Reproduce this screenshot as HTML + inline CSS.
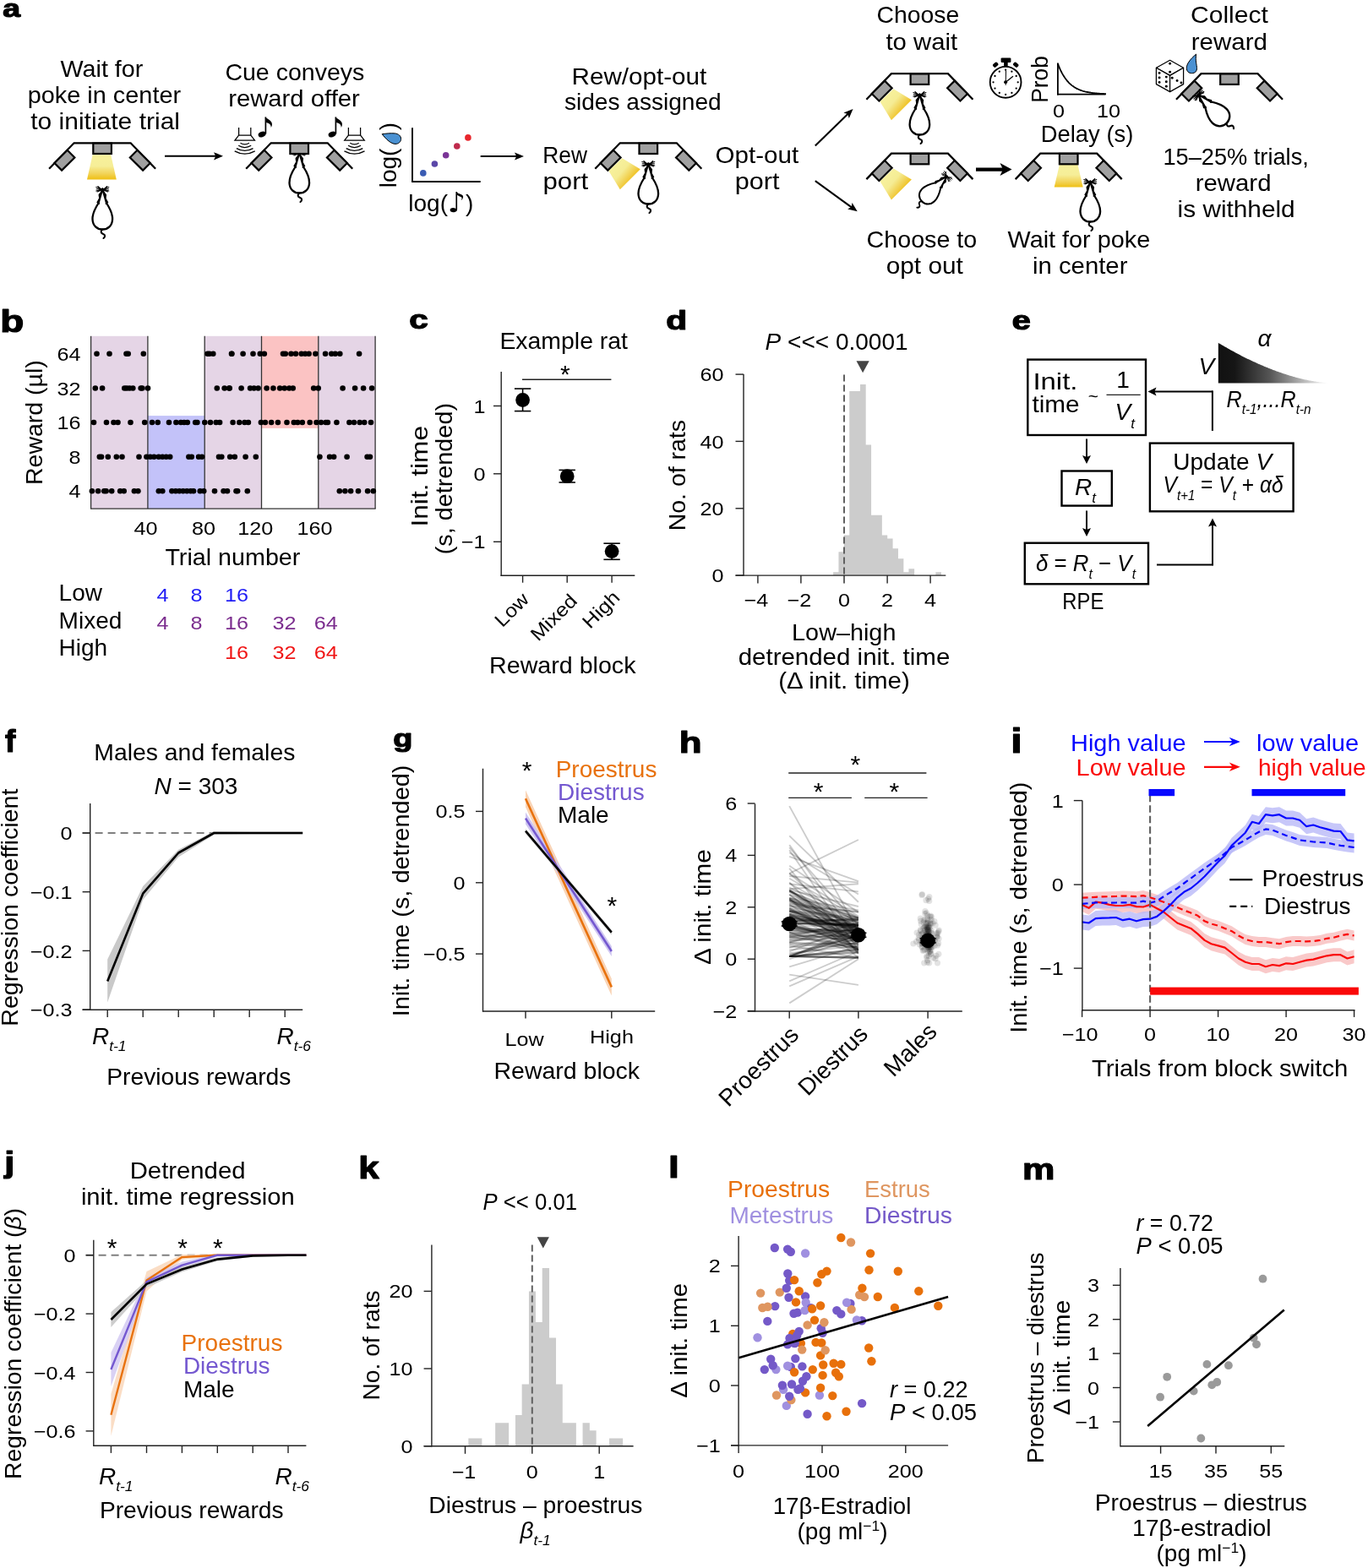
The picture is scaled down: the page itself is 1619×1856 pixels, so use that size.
<!DOCTYPE html>
<html><head><meta charset="utf-8"><title>Figure</title>
<style>html,body{margin:0;padding:0;background:#fff;} svg{display:block;} text{font-family:'Liberation Sans', 'DejaVu Sans', sans-serif;}</style>
</head><body>
<svg width="1619" height="1856" viewBox="0 0 1619 1856">
<rect width="1619" height="1856" fill="#fff"/>

<defs>
 <linearGradient id="gDown" x1="0" y1="0" x2="0" y2="1">
  <stop offset="0" stop-color="#f7f19c"/>
  <stop offset="0.45" stop-color="#f6ee98"/>
  <stop offset="0.75" stop-color="#f2d45a"/>
  <stop offset="1" stop-color="#efbf12"/>
 </linearGradient>
 <linearGradient id="gDiag" gradientUnits="userSpaceOnUse" x1="-40" y1="27" x2="-19" y2="45">
  <stop offset="0" stop-color="#f7f19c"/>
  <stop offset="0.4" stop-color="#f5ec94"/>
  <stop offset="0.75" stop-color="#f1d04e"/>
  <stop offset="1" stop-color="#efbd10"/>
 </linearGradient>
 <linearGradient id="gV" x1="0" y1="0" x2="1" y2="0">
  <stop offset="0" stop-color="#111"/>
  <stop offset="0.15" stop-color="#161616"/>
  <stop offset="0.46" stop-color="#555"/>
  <stop offset="0.67" stop-color="#999"/>
  <stop offset="0.88" stop-color="#ddd"/>
  <stop offset="1" stop-color="#fff"/>
 </linearGradient>
 <g id="app">
  <path d="M-63,30.5 L-33.5,0 L33.5,0 L63,30.5" fill="none" stroke="#000" stroke-width="2.3" stroke-linejoin="miter"/>
  <rect x="-10.8" y="0.3" width="21.6" height="12.4" fill="#a0a0a0" stroke="#000" stroke-width="2.2"/>
  <rect x="-10.8" y="-6.1" width="21.6" height="12.2" fill="#a0a0a0" stroke="#000" stroke-width="2.2" transform="translate(-44.7,20.4) rotate(-45)"/>
  <rect x="-10.8" y="-6.1" width="21.6" height="12.2" fill="#a0a0a0" stroke="#000" stroke-width="2.2" transform="translate(44.7,20.4) rotate(45)"/>
 </g>
 <g id="rat" fill="none" stroke="#000" stroke-linecap="round" stroke-linejoin="round">
  <path d="M-7.5,0.5 L7.5,5 M-7.5,5 L7.5,0.5 M-7.2,2.8 L7.2,2.8 M-5.5,-0.5 L-1,3.3 M5.5,-0.5 L1,3.3 M-6.3,6 L-1,4 M6.3,6 L1,4" stroke-width="1.05"/>
  <path d="M0,2.5 L-4.8,19.5 M0,2.5 L4.8,19.5" stroke-width="2.3"/>
  <path d="M-1.4,6 L-4.2,9.5 L-3.6,13.5 L-2.6,11 Z M1.4,6 L4.2,9.5 L3.6,13.5 L2.6,11 Z" fill="#000" stroke-width="1.2"/>
  <path d="M-4.2,15 L-6.2,18.5 L-4,20 M4.2,15 L6.2,18.5 L4,20" stroke-width="1.5"/>
  <path d="M-4.8,19.5 C-9,26 -12,32 -11.8,38.5 C-11.6,46 -6.5,50.5 0,50.5 C6.5,50.5 11.6,46 11.8,38.5 C12,32 9,26 4.8,19.5" stroke-width="2.3"/>
  <path d="M0,50.5 C-2.4,52.5 -2.2,55 0.8,56 C3.6,57 3.2,59.5 1.2,61" stroke-width="2.1"/>
 </g>
 <g id="spk" fill="#fff" stroke="#000" stroke-width="1.25">
  <path d="M-7.1,-9 L-7.1,0 M7.1,-9 L7.1,0" fill="none"/>
  <path d="M-7.1,0 L7.1,0 L11.8,6.2 L-11.8,6.2 Z"/>
  <path d="M-5.2,9.2 Q0,12.5 5.2,9.2 M-7.5,12.3 Q0,16.8 7.5,12.3 M-9.8,15.6 Q0,21.2 9.8,15.6 M-12,18.9 Q0,25.5 12,18.9" fill="none"/>
 </g>
 <g id="note">
  <ellipse cx="-5.3" cy="20.5" rx="4.6" ry="3.2" transform="rotate(-22 -5.3 20.5)" fill="#000"/>
  <path d="M-1,20 L-1,0" stroke="#000" stroke-width="1.7"/>
  <path d="M-1.6,0 C1,2.5 7.5,4.5 6.5,9.5 C6.2,11 5.6,12 5.2,12.6 C6,9.5 3,7 -1,6.2 Z" fill="#000"/>
 </g>
</defs>

<text x="3.2" y="20.1" font-size="29.27" font-weight="bold" textLength="20.8" lengthAdjust="spacingAndGlyphs" stroke="#000" stroke-width="1.2" stroke-linejoin="round">a</text>
<text x="71.5" y="91.4" font-size="28" textLength="97.9" lengthAdjust="spacingAndGlyphs">Wait for</text>
<text x="32.7" y="122.3" font-size="28" textLength="181.4" lengthAdjust="spacingAndGlyphs">poke in center</text>
<text x="36.2" y="153.0" font-size="28" textLength="176.8" lengthAdjust="spacingAndGlyphs">to initiate trial</text>
<text x="266.4" y="95.2" font-size="28" textLength="165.0" lengthAdjust="spacingAndGlyphs">Cue conveys</text>
<text x="270.2" y="126.1" font-size="28" textLength="155.6" lengthAdjust="spacingAndGlyphs">reward offer</text>
<text x="676.6" y="100.2" font-size="28" textLength="159.6" lengthAdjust="spacingAndGlyphs">Rew/opt-out</text>
<text x="667.9" y="130.3" font-size="28" textLength="185.8" lengthAdjust="spacingAndGlyphs">sides assigned</text>
<text x="642.3" y="192.8" font-size="28" textLength="52.6" lengthAdjust="spacingAndGlyphs">Rew</text>
<text x="642.5" y="224.2" font-size="28" textLength="53.7" lengthAdjust="spacingAndGlyphs">port</text>
<text x="846.6" y="193.3" font-size="28" textLength="98.6" lengthAdjust="spacingAndGlyphs">Opt-out</text>
<text x="869.8" y="224.2" font-size="28" textLength="52.7" lengthAdjust="spacingAndGlyphs">port</text>
<text x="1037.6" y="27.2" font-size="28" textLength="97.7" lengthAdjust="spacingAndGlyphs">Choose</text>
<text x="1048.4" y="59.3" font-size="28" textLength="84.7" lengthAdjust="spacingAndGlyphs">to wait</text>
<text x="1025.6" y="293.3" font-size="28" textLength="130.6" lengthAdjust="spacingAndGlyphs">Choose to</text>
<text x="1048.7" y="323.7" font-size="28" textLength="91.2" lengthAdjust="spacingAndGlyphs">opt out</text>
<text x="1192.5" y="293.3" font-size="28" textLength="168.7" lengthAdjust="spacingAndGlyphs">Wait for poke</text>
<text x="1222.0" y="323.7" font-size="28" textLength="112.4" lengthAdjust="spacingAndGlyphs">in center</text>
<text x="1409.0" y="27.2" font-size="28" textLength="91.9" lengthAdjust="spacingAndGlyphs">Collect</text>
<text x="1409.7" y="59.3" font-size="28" textLength="90.2" lengthAdjust="spacingAndGlyphs">reward</text>
<text x="1376.4" y="195.2" font-size="28" textLength="172.4" lengthAdjust="spacingAndGlyphs">15–25% trials,</text>
<text x="1414.7" y="226.0" font-size="28" textLength="89.8" lengthAdjust="spacingAndGlyphs">reward</text>
<text x="1393.6" y="257.0" font-size="28" textLength="139.1" lengthAdjust="spacingAndGlyphs">is withheld</text>
<path d="M109.6,183.3 L131.2,183.3 L137.8,212.6 L103.0,212.6Z" fill="url(#gDown)" stroke="none" stroke-width="1" />
<g transform="translate(767.3,169.3)"><path d="M-47,33 L-31,18 L-9.5,31 L-33.5,55 Z" fill="url(#gDiag)"/></g>
<g transform="translate(1088.4,87.2)"><path d="M-47,33 L-31,18 L-9.5,31 L-33.5,55 Z" fill="url(#gDiag)"/></g>
<g transform="translate(1088.4,181.6)"><path d="M-47,33 L-31,18 L-9.5,31 L-33.5,55 Z" fill="url(#gDiag)"/></g>
<path d="M1253.9,195.1 L1275.5,195.1 L1281.7,221.6 L1247.7,221.6Z" fill="url(#gDown)" stroke="none" stroke-width="1" />
<use href="#rat" transform="translate(354.3,178.0) rotate(0) scale(1.0)"/>
<use href="#app" x="121.1" y="169.3"/>
<use href="#app" x="354.2" y="169.3"/>
<use href="#app" x="767.3" y="169.3"/>
<use href="#app" x="1088.4" y="87.2"/>
<use href="#app" x="1088.4" y="181.6"/>
<use href="#app" x="1264.7" y="181.6"/>
<use href="#app" x="1455.0" y="87.2"/>
<use href="#rat" transform="translate(121.3,221.0) rotate(0) scale(1.0)"/>
<use href="#rat" transform="translate(767.3,191.0) rotate(0) scale(1.0)"/>
<use href="#rat" transform="translate(1088.4,109.0) rotate(0) scale(1.0)"/>
<use href="#rat" transform="translate(1122.5,207.0) rotate(45) scale(0.88)"/>
<use href="#rat" transform="translate(1290.3,212.0) rotate(0) scale(1.0)"/>
<use href="#rat" transform="translate(1416.0,110.0) rotate(-45) scale(1.0)"/>
<use href="#spk" x="289.7" y="160"/>
<use href="#spk" x="419.5" y="160"/>
<use href="#note" x="315.4" y="138.5"/>
<use href="#note" x="398.4" y="138.5"/>
<line x1="195.0" y1="184.8" x2="256.4" y2="184.8" stroke="#000" stroke-width="2.1" />
<path d="M264.0,184.8 L253.0,189.4 L255.2,184.8 L253.0,180.2Z" fill="#000" stroke="none" stroke-width="1" />
<line x1="568.7" y1="185.0" x2="612.4" y2="185.0" stroke="#000" stroke-width="2.1" />
<path d="M620.0,185.0 L609.0,189.6 L611.2,185.0 L609.0,180.4Z" fill="#000" stroke="none" stroke-width="1" />
<line x1="964.8" y1="172.5" x2="1004.1" y2="134.3" stroke="#000" stroke-width="2.1" />
<path d="M1009.5,129.0 L1004.8,140.0 L1003.2,135.1 L998.4,133.4Z" fill="#000" stroke="none" stroke-width="1" />
<line x1="964.8" y1="214.2" x2="1008.5" y2="245.8" stroke="#000" stroke-width="2.1" />
<path d="M1014.7,250.2 L1003.1,247.5 L1007.6,245.1 L1008.5,240.0Z" fill="#000" stroke="none" stroke-width="1" />
<line x1="1155.0" y1="200.6" x2="1188.2" y2="200.6" stroke="#000" stroke-width="4.4" />
<path d="M1197.5,200.6 L1183.5,208.1 L1187.0,200.6 L1183.5,193.1Z" fill="#000" stroke="none" stroke-width="1" />
<line x1="488.0" y1="151.3" x2="488.0" y2="215.0" stroke="#000" stroke-width="1.9" />
<line x1="487.1" y1="215.0" x2="568.7" y2="215.0" stroke="#000" stroke-width="1.9" />
<circle cx="500.8" cy="204.9" r="3.8" fill="#3a5cb3" />
<circle cx="514.4" cy="194.0" r="3.8" fill="#5b47a8" />
<circle cx="527.7" cy="183.7" r="3.8" fill="#7b3597" />
<circle cx="540.8" cy="173.0" r="3.8" fill="#bf2a4c" />
<circle cx="553.9" cy="162.9" r="3.8" fill="#e8262c" />
<text x="483.3" y="250.3" font-size="28">log(<tspan font-family="DejaVu Sans" font-size="33" dy="1">♪</tspan><tspan dy="-1">)</tspan></text>
<text x="469.0" y="222.3" font-size="28" transform="rotate(-90 469.0 222.3)">log(</text>
<text x="469.0" y="154.3" font-size="28" transform="rotate(-90 469.0 154.3)">)</text>
<path d="M452.2,158.7 C456.5,158.1 462,157.5 467.3,157.9 C471.6,158.3 474.6,161.0 474.6,164.3 C474.6,168.0 471.6,170.4 468.0,170.4 C462.8,170.4 456.8,164.8 452.2,158.7 Z" fill="#4a91d2" stroke="#000" stroke-width="1.0" />
<g>
<circle cx="1190.1" cy="97.3" r="18.4" fill="none" stroke="#000" stroke-width="1.9"/>
<rect x="1184.6" y="68.4" width="11.8" height="5.6" rx="1.2" fill="#000"/>
<rect x="1188.1" y="73.5" width="4.6" height="5" fill="#000"/>
<rect x="-3.2" y="-2.3" width="6.4" height="4.6" rx="1.5" fill="#000" transform="translate(1178.2,76.7) rotate(-40)"/>
<rect x="-3.2" y="-2.3" width="6.4" height="4.6" rx="1.5" fill="#000" transform="translate(1202.2,76.7) rotate(40)"/>
<circle cx="1190.1" cy="82.7" r="1.15" fill="#000" />
<circle cx="1197.4" cy="84.7" r="1.15" fill="#000" />
<circle cx="1202.7" cy="90.0" r="1.15" fill="#000" />
<circle cx="1204.7" cy="97.3" r="1.15" fill="#000" />
<circle cx="1202.7" cy="104.6" r="1.15" fill="#000" />
<circle cx="1197.4" cy="109.9" r="1.15" fill="#000" />
<circle cx="1190.1" cy="111.9" r="1.15" fill="#000" />
<circle cx="1182.8" cy="109.9" r="1.15" fill="#000" />
<circle cx="1177.5" cy="104.6" r="1.15" fill="#000" />
<circle cx="1175.5" cy="97.3" r="1.15" fill="#000" />
<circle cx="1177.5" cy="90.0" r="1.15" fill="#000" />
<circle cx="1182.8" cy="84.7" r="1.15" fill="#000" />
<line x1="1190.2" y1="100.8" x2="1190.5" y2="83.4" stroke="#000" stroke-width="1.0" />
<line x1="1190.2" y1="97.3" x2="1199.0" y2="90.2" stroke="#000" stroke-width="1.3" />
<circle cx="1190.1" cy="97.3" r="2.0" fill="#000" />
</g>
<text x="1240.2" y="121.8" font-size="28" transform="rotate(-90 1240.2 121.8)" textLength="55.6" lengthAdjust="spacingAndGlyphs">Prob</text>
<line x1="1251.9" y1="74.6" x2="1251.9" y2="112.5" stroke="#000" stroke-width="1.8" />
<line x1="1251.0" y1="111.7" x2="1308.6" y2="111.7" stroke="#000" stroke-width="1.8" />
<path d="M1251.9,75.3 L1252.9,77.9 L1253.9,80.3 L1254.9,82.6 L1255.9,84.6 L1256.9,86.6 L1257.9,88.4 L1258.9,90.0 L1259.9,91.6 L1260.9,93.0 L1261.9,94.3 L1262.9,95.6 L1263.9,96.7 L1264.9,97.8 L1265.9,98.8 L1266.9,99.7 L1267.9,100.6 L1268.9,101.4 L1269.9,102.1 L1270.9,102.8 L1271.9,103.4 L1272.9,104.0 L1273.9,104.6 L1274.9,105.1 L1275.9,105.5 L1276.9,106.0 L1277.9,106.4 L1278.9,106.8 L1279.9,107.1 L1280.9,107.5 L1281.9,107.8 L1282.9,108.0 L1283.9,108.3 L1284.9,108.5 L1285.9,108.8 L1286.9,109.0 L1287.9,109.2 L1288.9,109.4 L1289.9,109.5 L1290.9,109.7 L1291.9,109.8 L1292.9,110.0 L1293.9,110.1 L1294.9,110.2 L1295.9,110.3 L1296.9,110.4 L1297.9,110.5 L1298.9,110.6 L1299.9,110.7 L1300.9,110.7 L1301.9,110.8 L1302.9,110.9 L1303.9,110.9 L1304.9,111.0 L1305.9,111.0 L1306.9,111.1 L1307.9,111.1 L1308.9,111.2" fill="none" stroke="#000" stroke-width="1.8" />
<text x="1252.9" y="138.5" font-size="22.5" text-anchor="middle" textLength="14.0" lengthAdjust="spacingAndGlyphs">0</text>
<text x="1312.0" y="138.5" font-size="22.5" text-anchor="middle" textLength="28.0" lengthAdjust="spacingAndGlyphs">10</text>
<text x="1231.8" y="168.0" font-size="28" textLength="109.5" lengthAdjust="spacingAndGlyphs">Delay (s)</text>
<g stroke="#000" stroke-width="1.25" fill="#fff" stroke-linejoin="round">
<path d="M1384.6,71.3 L1400.6,80.3 L1384.6,89.4 L1368.4,80.3 Z" fill="#fff" stroke="#000" stroke-width="1.25" />
<path d="M1368.4,80.3 L1384.6,89.4 L1384.6,108.6 L1368.4,99.6 Z" fill="#fff" stroke="#000" stroke-width="1.25" />
<path d="M1400.6,80.3 L1384.6,89.4 L1384.6,108.6 L1400.6,99.6 Z" fill="#fff" stroke="#000" stroke-width="1.25" />
</g>
<circle cx="1384.6" cy="75.3" r="1.45" fill="#000" />
<circle cx="1384.6" cy="85.3" r="1.45" fill="#000" />
<circle cx="1372.1" cy="86.4" r="1.45" fill="#000" />
<circle cx="1372.1" cy="92.0" r="1.45" fill="#000" />
<circle cx="1372.1" cy="97.4" r="1.45" fill="#000" />
<circle cx="1380.3" cy="91.1" r="1.45" fill="#000" />
<circle cx="1380.3" cy="96.7" r="1.45" fill="#000" />
<circle cx="1380.3" cy="102.2" r="1.45" fill="#000" />
<circle cx="1387.2" cy="92.2" r="1.45" fill="#000" />
<circle cx="1393.1" cy="95.5" r="1.45" fill="#000" />
<circle cx="1398.0" cy="98.0" r="1.45" fill="#000" />
<path d="M1415.6,64.1 C1408,70.5 1404.3,76 1404.3,80.6 C1404.3,84.5 1407,86.7 1410.5,86.7 C1414.3,86.7 1416.6,84.2 1416.5,80.6 C1416.4,77 1414.6,72 1415.6,64.1 Z" fill="#4a91d2" stroke="#000" stroke-width="1.0" />
<text x="0.2" y="393.0" font-size="37.12" font-weight="bold" textLength="28.1" lengthAdjust="spacingAndGlyphs" stroke="#000" stroke-width="1.2" stroke-linejoin="round">b</text>
<rect x="107.6" y="397.8" width="67.3" height="204.3" fill="#e5d5e6"/>
<rect x="174.9" y="492.1" width="67.3" height="110.0" fill="#c3c2f9"/>
<rect x="242.2" y="397.8" width="67.3" height="204.3" fill="#e5d5e6"/>
<rect x="309.5" y="397.8" width="67.3" height="109.1" fill="#fbc3c3"/>
<rect x="376.8" y="397.8" width="67.3" height="204.3" fill="#e5d5e6"/>
<line x1="107.6" y1="397.8" x2="107.6" y2="602.1" stroke="#333" stroke-width="1.3" />
<line x1="174.9" y1="397.8" x2="174.9" y2="602.1" stroke="#333" stroke-width="1.3" />
<line x1="242.2" y1="397.8" x2="242.2" y2="602.1" stroke="#333" stroke-width="1.3" />
<line x1="309.5" y1="397.8" x2="309.5" y2="602.1" stroke="#333" stroke-width="1.3" />
<line x1="376.8" y1="397.8" x2="376.8" y2="602.1" stroke="#333" stroke-width="1.3" />
<line x1="444.1" y1="397.8" x2="444.1" y2="602.1" stroke="#333" stroke-width="1.3" />
<line x1="107.0" y1="602.1" x2="444.7" y2="602.1" stroke="#333" stroke-width="1.4" />
<circle cx="114.5" cy="418.8" r="3.3" fill="#000" />
<circle cx="129.5" cy="418.8" r="3.3" fill="#000" />
<circle cx="149.5" cy="418.8" r="3.3" fill="#000" />
<circle cx="151.7" cy="418.8" r="3.3" fill="#000" />
<circle cx="169.8" cy="418.8" r="3.3" fill="#000" />
<circle cx="245.6" cy="418.8" r="3.3" fill="#000" />
<circle cx="247.9" cy="418.8" r="3.3" fill="#000" />
<circle cx="252.3" cy="418.8" r="3.3" fill="#000" />
<circle cx="274.0" cy="418.8" r="3.3" fill="#000" />
<circle cx="274.4" cy="418.8" r="3.3" fill="#000" />
<circle cx="287.6" cy="418.8" r="3.3" fill="#000" />
<circle cx="299.5" cy="418.8" r="3.3" fill="#000" />
<circle cx="307.8" cy="418.8" r="3.3" fill="#000" />
<circle cx="312.8" cy="418.8" r="3.3" fill="#000" />
<circle cx="335.0" cy="418.8" r="3.3" fill="#000" />
<circle cx="337.8" cy="418.8" r="3.3" fill="#000" />
<circle cx="344.5" cy="418.8" r="3.3" fill="#000" />
<circle cx="350.0" cy="418.8" r="3.3" fill="#000" />
<circle cx="356.7" cy="418.8" r="3.3" fill="#000" />
<circle cx="361.2" cy="418.8" r="3.3" fill="#000" />
<circle cx="365.6" cy="418.8" r="3.3" fill="#000" />
<circle cx="373.4" cy="418.8" r="3.3" fill="#000" />
<circle cx="385.1" cy="418.8" r="3.3" fill="#000" />
<circle cx="392.3" cy="418.8" r="3.3" fill="#000" />
<circle cx="396.8" cy="418.8" r="3.3" fill="#000" />
<circle cx="402.3" cy="418.8" r="3.3" fill="#000" />
<circle cx="425.1" cy="418.8" r="3.3" fill="#000" />
<circle cx="112.8" cy="459.5" r="3.3" fill="#000" />
<circle cx="121.1" cy="459.5" r="3.3" fill="#000" />
<circle cx="147.3" cy="459.5" r="3.3" fill="#000" />
<circle cx="150.0" cy="459.5" r="3.3" fill="#000" />
<circle cx="153.4" cy="459.5" r="3.3" fill="#000" />
<circle cx="157.3" cy="459.5" r="3.3" fill="#000" />
<circle cx="166.7" cy="459.5" r="3.3" fill="#000" />
<circle cx="168.4" cy="459.5" r="3.3" fill="#000" />
<circle cx="175.0" cy="459.5" r="3.3" fill="#000" />
<circle cx="256.8" cy="459.5" r="3.3" fill="#000" />
<circle cx="265.7" cy="459.5" r="3.3" fill="#000" />
<circle cx="271.2" cy="459.5" r="3.3" fill="#000" />
<circle cx="271.7" cy="459.5" r="3.3" fill="#000" />
<circle cx="285.6" cy="459.5" r="3.3" fill="#000" />
<circle cx="296.1" cy="459.5" r="3.3" fill="#000" />
<circle cx="300.6" cy="459.5" r="3.3" fill="#000" />
<circle cx="305.6" cy="459.5" r="3.3" fill="#000" />
<circle cx="315.6" cy="459.5" r="3.3" fill="#000" />
<circle cx="323.4" cy="459.5" r="3.3" fill="#000" />
<circle cx="331.2" cy="459.5" r="3.3" fill="#000" />
<circle cx="336.7" cy="459.5" r="3.3" fill="#000" />
<circle cx="342.3" cy="459.5" r="3.3" fill="#000" />
<circle cx="346.7" cy="459.5" r="3.3" fill="#000" />
<circle cx="371.2" cy="459.5" r="3.3" fill="#000" />
<circle cx="376.7" cy="459.5" r="3.3" fill="#000" />
<circle cx="405.6" cy="459.5" r="3.3" fill="#000" />
<circle cx="420.1" cy="459.5" r="3.3" fill="#000" />
<circle cx="430.1" cy="459.5" r="3.3" fill="#000" />
<circle cx="440.1" cy="459.5" r="3.3" fill="#000" />
<circle cx="111.0" cy="500.0" r="3.3" fill="#000" />
<circle cx="126.0" cy="500.0" r="3.3" fill="#000" />
<circle cx="134.5" cy="500.0" r="3.3" fill="#000" />
<circle cx="139.5" cy="500.0" r="3.3" fill="#000" />
<circle cx="154.5" cy="500.0" r="3.3" fill="#000" />
<circle cx="171.2" cy="500.0" r="3.3" fill="#000" />
<circle cx="180.0" cy="500.0" r="3.3" fill="#000" />
<circle cx="186.7" cy="500.0" r="3.3" fill="#000" />
<circle cx="200.0" cy="500.0" r="3.3" fill="#000" />
<circle cx="208.4" cy="500.0" r="3.3" fill="#000" />
<circle cx="214.0" cy="500.0" r="3.3" fill="#000" />
<circle cx="217.9" cy="500.0" r="3.3" fill="#000" />
<circle cx="221.8" cy="500.0" r="3.3" fill="#000" />
<circle cx="231.2" cy="500.0" r="3.3" fill="#000" />
<circle cx="233.4" cy="500.0" r="3.3" fill="#000" />
<circle cx="242.3" cy="500.0" r="3.3" fill="#000" />
<circle cx="249.0" cy="500.0" r="3.3" fill="#000" />
<circle cx="255.7" cy="500.0" r="3.3" fill="#000" />
<circle cx="260.1" cy="500.0" r="3.3" fill="#000" />
<circle cx="275.6" cy="500.0" r="3.3" fill="#000" />
<circle cx="283.3" cy="500.0" r="3.3" fill="#000" />
<circle cx="289.5" cy="500.0" r="3.3" fill="#000" />
<circle cx="293.9" cy="500.0" r="3.3" fill="#000" />
<circle cx="308.9" cy="500.0" r="3.3" fill="#000" />
<circle cx="313.9" cy="500.0" r="3.3" fill="#000" />
<circle cx="321.1" cy="500.0" r="3.3" fill="#000" />
<circle cx="328.9" cy="500.0" r="3.3" fill="#000" />
<circle cx="339.5" cy="500.0" r="3.3" fill="#000" />
<circle cx="347.8" cy="500.0" r="3.3" fill="#000" />
<circle cx="352.3" cy="500.0" r="3.3" fill="#000" />
<circle cx="357.8" cy="500.0" r="3.3" fill="#000" />
<circle cx="366.7" cy="500.0" r="3.3" fill="#000" />
<circle cx="374.5" cy="500.0" r="3.3" fill="#000" />
<circle cx="380.0" cy="500.0" r="3.3" fill="#000" />
<circle cx="385.6" cy="500.0" r="3.3" fill="#000" />
<circle cx="387.9" cy="500.0" r="3.3" fill="#000" />
<circle cx="398.4" cy="500.0" r="3.3" fill="#000" />
<circle cx="413.4" cy="500.0" r="3.3" fill="#000" />
<circle cx="419.0" cy="500.0" r="3.3" fill="#000" />
<circle cx="425.7" cy="500.0" r="3.3" fill="#000" />
<circle cx="431.2" cy="500.0" r="3.3" fill="#000" />
<circle cx="439.0" cy="500.0" r="3.3" fill="#000" />
<circle cx="117.8" cy="540.7" r="3.3" fill="#000" />
<circle cx="120.0" cy="540.7" r="3.3" fill="#000" />
<circle cx="127.8" cy="540.7" r="3.3" fill="#000" />
<circle cx="137.8" cy="540.7" r="3.3" fill="#000" />
<circle cx="144.5" cy="540.7" r="3.3" fill="#000" />
<circle cx="164.5" cy="540.7" r="3.3" fill="#000" />
<circle cx="173.4" cy="540.7" r="3.3" fill="#000" />
<circle cx="177.8" cy="540.7" r="3.3" fill="#000" />
<circle cx="182.3" cy="540.7" r="3.3" fill="#000" />
<circle cx="187.8" cy="540.7" r="3.3" fill="#000" />
<circle cx="192.3" cy="540.7" r="3.3" fill="#000" />
<circle cx="196.7" cy="540.7" r="3.3" fill="#000" />
<circle cx="201.2" cy="540.7" r="3.3" fill="#000" />
<circle cx="223.4" cy="540.7" r="3.3" fill="#000" />
<circle cx="226.8" cy="540.7" r="3.3" fill="#000" />
<circle cx="235.1" cy="540.7" r="3.3" fill="#000" />
<circle cx="239.0" cy="540.7" r="3.3" fill="#000" />
<circle cx="259.0" cy="540.7" r="3.3" fill="#000" />
<circle cx="262.3" cy="540.7" r="3.3" fill="#000" />
<circle cx="272.2" cy="540.7" r="3.3" fill="#000" />
<circle cx="277.8" cy="540.7" r="3.3" fill="#000" />
<circle cx="290.6" cy="540.7" r="3.3" fill="#000" />
<circle cx="302.8" cy="540.7" r="3.3" fill="#000" />
<circle cx="378.4" cy="540.7" r="3.3" fill="#000" />
<circle cx="390.1" cy="540.7" r="3.3" fill="#000" />
<circle cx="395.1" cy="540.7" r="3.3" fill="#000" />
<circle cx="410.6" cy="540.7" r="3.3" fill="#000" />
<circle cx="434.6" cy="540.7" r="3.3" fill="#000" />
<circle cx="437.9" cy="540.7" r="3.3" fill="#000" />
<circle cx="108.9" cy="581.3" r="3.3" fill="#000" />
<circle cx="116.1" cy="581.3" r="3.3" fill="#000" />
<circle cx="123.3" cy="581.3" r="3.3" fill="#000" />
<circle cx="125.6" cy="581.3" r="3.3" fill="#000" />
<circle cx="132.2" cy="581.3" r="3.3" fill="#000" />
<circle cx="142.2" cy="581.3" r="3.3" fill="#000" />
<circle cx="146.7" cy="581.3" r="3.3" fill="#000" />
<circle cx="158.9" cy="581.3" r="3.3" fill="#000" />
<circle cx="163.4" cy="581.3" r="3.3" fill="#000" />
<circle cx="187.8" cy="581.3" r="3.3" fill="#000" />
<circle cx="192.3" cy="581.3" r="3.3" fill="#000" />
<circle cx="203.4" cy="581.3" r="3.3" fill="#000" />
<circle cx="207.9" cy="581.3" r="3.3" fill="#000" />
<circle cx="212.3" cy="581.3" r="3.3" fill="#000" />
<circle cx="216.7" cy="581.3" r="3.3" fill="#000" />
<circle cx="221.2" cy="581.3" r="3.3" fill="#000" />
<circle cx="225.6" cy="581.3" r="3.3" fill="#000" />
<circle cx="229.0" cy="581.3" r="3.3" fill="#000" />
<circle cx="236.8" cy="581.3" r="3.3" fill="#000" />
<circle cx="241.2" cy="581.3" r="3.3" fill="#000" />
<circle cx="254.0" cy="581.3" r="3.3" fill="#000" />
<circle cx="264.6" cy="581.3" r="3.3" fill="#000" />
<circle cx="269.0" cy="581.3" r="3.3" fill="#000" />
<circle cx="279.5" cy="581.3" r="3.3" fill="#000" />
<circle cx="281.1" cy="581.3" r="3.3" fill="#000" />
<circle cx="292.8" cy="581.3" r="3.3" fill="#000" />
<circle cx="401.8" cy="581.3" r="3.3" fill="#000" />
<circle cx="408.4" cy="581.3" r="3.3" fill="#000" />
<circle cx="415.1" cy="581.3" r="3.3" fill="#000" />
<circle cx="424.0" cy="581.3" r="3.3" fill="#000" />
<circle cx="435.1" cy="581.3" r="3.3" fill="#000" />
<circle cx="441.8" cy="581.3" r="3.3" fill="#000" />
<text x="95.5" y="426.8" font-size="22.5" text-anchor="end" textLength="28.0" lengthAdjust="spacingAndGlyphs">64</text>
<text x="95.5" y="467.5" font-size="22.5" text-anchor="end" textLength="28.0" lengthAdjust="spacingAndGlyphs">32</text>
<text x="95.5" y="508.0" font-size="22.5" text-anchor="end" textLength="28.0" lengthAdjust="spacingAndGlyphs">16</text>
<text x="95.5" y="548.7" font-size="22.5" text-anchor="end" textLength="14.0" lengthAdjust="spacingAndGlyphs">8</text>
<text x="95.5" y="589.3" font-size="22.5" text-anchor="end" textLength="14.0" lengthAdjust="spacingAndGlyphs">4</text>
<text x="172.6" y="632.8" font-size="22.5" text-anchor="middle" textLength="28.0" lengthAdjust="spacingAndGlyphs">40</text>
<text x="241.0" y="632.8" font-size="22.5" text-anchor="middle" textLength="28.0" lengthAdjust="spacingAndGlyphs">80</text>
<text x="302.3" y="632.8" font-size="22.5" text-anchor="middle" textLength="42.0" lengthAdjust="spacingAndGlyphs">120</text>
<text x="372.5" y="632.8" font-size="22.5" text-anchor="middle" textLength="42.0" lengthAdjust="spacingAndGlyphs">160</text>
<text x="195.4" y="668.8" font-size="28" textLength="160.0" lengthAdjust="spacingAndGlyphs">Trial number</text>
<text x="49.5" y="574.0" font-size="28" transform="rotate(-90 49.5 574.0)" textLength="147.8" lengthAdjust="spacingAndGlyphs">Reward (µl)</text>
<text x="69.6" y="710.5" font-size="28">Low</text>
<text x="69.6" y="744.0" font-size="28">Mixed</text>
<text x="69.6" y="775.5" font-size="28">High</text>
<text x="192.5" y="711.5" font-size="22.5" text-anchor="middle" fill="#1f1cf5" textLength="14.0" lengthAdjust="spacingAndGlyphs">4</text>
<text x="232.5" y="711.5" font-size="22.5" text-anchor="middle" fill="#1f1cf5" textLength="14.0" lengthAdjust="spacingAndGlyphs">8</text>
<text x="280.0" y="711.5" font-size="22.5" text-anchor="middle" fill="#1f1cf5" textLength="28.0" lengthAdjust="spacingAndGlyphs">16</text>
<text x="192.5" y="744.5" font-size="22.5" text-anchor="middle" fill="#7b2d8e" textLength="14.0" lengthAdjust="spacingAndGlyphs">4</text>
<text x="232.5" y="744.5" font-size="22.5" text-anchor="middle" fill="#7b2d8e" textLength="14.0" lengthAdjust="spacingAndGlyphs">8</text>
<text x="280.0" y="744.5" font-size="22.5" text-anchor="middle" fill="#7b2d8e" textLength="28.0" lengthAdjust="spacingAndGlyphs">16</text>
<text x="336.6" y="744.5" font-size="22.5" text-anchor="middle" fill="#7b2d8e" textLength="28.0" lengthAdjust="spacingAndGlyphs">32</text>
<text x="385.7" y="744.5" font-size="22.5" text-anchor="middle" fill="#7b2d8e" textLength="28.0" lengthAdjust="spacingAndGlyphs">64</text>
<text x="280.0" y="780.0" font-size="22.5" text-anchor="middle" fill="#f01515" textLength="28.0" lengthAdjust="spacingAndGlyphs">16</text>
<text x="336.6" y="780.0" font-size="22.5" text-anchor="middle" fill="#f01515" textLength="28.0" lengthAdjust="spacingAndGlyphs">32</text>
<text x="385.7" y="780.0" font-size="22.5" text-anchor="middle" fill="#f01515" textLength="28.0" lengthAdjust="spacingAndGlyphs">64</text>
<text x="484.2" y="389.4" font-size="31.09" font-weight="bold" textLength="22.5" lengthAdjust="spacingAndGlyphs" stroke="#000" stroke-width="1.2" stroke-linejoin="round">c</text>
<text x="591.4" y="413.3" font-size="28" textLength="151.6" lengthAdjust="spacingAndGlyphs">Example rat</text>
<line x1="593.2" y1="440.0" x2="593.2" y2="682.0" stroke="#222" stroke-width="1.4" />
<line x1="592.5" y1="681.3" x2="751.3" y2="681.3" stroke="#222" stroke-width="1.4" />
<line x1="584.0" y1="480.5" x2="593.2" y2="480.5" stroke="#222" stroke-width="1.4" />
<text x="574.5" y="488.5" font-size="22.5" text-anchor="end" textLength="14.0" lengthAdjust="spacingAndGlyphs">1</text>
<line x1="584.0" y1="560.8" x2="593.2" y2="560.8" stroke="#222" stroke-width="1.4" />
<text x="574.5" y="568.8" font-size="22.5" text-anchor="end" textLength="14.0" lengthAdjust="spacingAndGlyphs">0</text>
<line x1="584.0" y1="641.3" x2="593.2" y2="641.3" stroke="#222" stroke-width="1.4" />
<text x="574.5" y="649.3" font-size="22.5" text-anchor="end" textLength="28.7" lengthAdjust="spacingAndGlyphs">−1</text>
<line x1="618.6" y1="681.3" x2="618.6" y2="689.7" stroke="#222" stroke-width="1.4" />
<line x1="671.2" y1="681.3" x2="671.2" y2="689.7" stroke="#222" stroke-width="1.4" />
<line x1="724.1" y1="681.3" x2="724.1" y2="689.7" stroke="#222" stroke-width="1.4" />
<line x1="618.6" y1="460.1" x2="618.6" y2="486.6" stroke="#000" stroke-width="1.6" />
<line x1="608.9" y1="460.1" x2="628.3" y2="460.1" stroke="#000" stroke-width="1.6" />
<line x1="608.9" y1="486.6" x2="628.3" y2="486.6" stroke="#000" stroke-width="1.6" />
<circle cx="618.6" cy="473.5" r="8.4" fill="#000" />
<line x1="671.2" y1="556.4" x2="671.2" y2="571.0" stroke="#000" stroke-width="1.6" />
<line x1="661.5" y1="556.4" x2="680.9" y2="556.4" stroke="#000" stroke-width="1.6" />
<line x1="661.5" y1="571.0" x2="680.9" y2="571.0" stroke="#000" stroke-width="1.6" />
<circle cx="671.2" cy="563.7" r="8.4" fill="#000" />
<line x1="724.1" y1="643.2" x2="724.1" y2="662.3" stroke="#000" stroke-width="1.6" />
<line x1="714.4" y1="643.2" x2="733.8" y2="643.2" stroke="#000" stroke-width="1.6" />
<line x1="714.4" y1="662.3" x2="733.8" y2="662.3" stroke="#000" stroke-width="1.6" />
<circle cx="724.1" cy="652.6" r="8.4" fill="#000" />
<line x1="618.0" y1="449.2" x2="723.4" y2="449.2" stroke="#222" stroke-width="1.4" />
<text x="668.8" y="453.0" font-size="30" text-anchor="middle">*</text>
<text x="506.4" y="623.5" font-size="28" transform="rotate(-90 506.4 623.5)" textLength="119.5" lengthAdjust="spacingAndGlyphs">Init. time</text>
<text x="535.5" y="656.3" font-size="28" transform="rotate(-90 535.5 656.3)" textLength="179.3" lengthAdjust="spacingAndGlyphs">(s, detrended)</text>
<text x="627.3" y="710.8" font-size="22.5" text-anchor="end" transform="rotate(-45 627.3 710.8)" textLength="46.2" lengthAdjust="spacingAndGlyphs">Low</text>
<text x="684.5" y="712.6" font-size="22.5" text-anchor="end" transform="rotate(-45 684.5 712.6)" textLength="67.2" lengthAdjust="spacingAndGlyphs">Mixed</text>
<text x="735.0" y="708.6" font-size="22.5" text-anchor="end" transform="rotate(-45 735.0 708.6)" textLength="51.8" lengthAdjust="spacingAndGlyphs">High</text>
<text x="579.1" y="797.4" font-size="28" textLength="173.4" lengthAdjust="spacingAndGlyphs">Reward block</text>
<text x="788.3" y="389.5" font-size="31.37" font-weight="bold" textLength="24.9" lengthAdjust="spacingAndGlyphs" stroke="#000" stroke-width="1.2" stroke-linejoin="round">d</text>
<text x="990.1" y="413.7" font-size="28" text-anchor="middle"><tspan font-style="italic">P</tspan> &lt;&lt;&lt; 0.0001</text>
<path d="M986.09,681.10 L986.09,677.13 L992.77,677.13 L992.77,681.10 Z M992.47,681.10 L992.47,653.33 L999.15,653.33 L999.15,681.10 Z M998.85,681.10 L998.85,633.50 L1005.53,633.50 L1005.53,681.10 Z M1005.23,681.10 L1005.23,462.92 L1011.91,462.92 L1011.91,681.10 Z M1011.62,681.10 L1011.62,462.92 L1018.30,462.92 L1018.30,681.10 Z M1018.00,681.10 L1018.00,454.98 L1024.68,454.98 L1024.68,681.10 Z M1024.38,681.10 L1024.38,526.39 L1031.06,526.39 L1031.06,681.10 Z M1030.76,681.10 L1030.76,609.69 L1037.45,609.69 L1037.45,681.10 Z M1037.14,681.10 L1037.14,609.69 L1043.83,609.69 L1043.83,681.10 Z M1043.53,681.10 L1043.53,633.50 L1050.21,633.50 L1050.21,681.10 Z M1049.91,681.10 L1049.91,637.46 L1056.59,637.46 L1056.59,681.10 Z M1056.29,681.10 L1056.29,649.36 L1062.98,649.36 L1062.98,681.10 Z M1062.67,681.10 L1062.67,661.26 L1069.36,661.26 L1069.36,681.10 Z M1069.06,681.10 L1069.06,677.13 L1075.74,677.13 L1075.74,681.10 Z M1075.44,681.10 L1075.44,673.17 L1082.12,673.17 L1082.12,681.10 Z M1107.35,681.10 L1107.35,677.13 L1114.04,677.13 L1114.04,681.10 Z " fill="#cccccc" stroke="none" stroke-width="1" />
<line x1="880.0" y1="443.0" x2="880.0" y2="681.8" stroke="#222" stroke-width="1.4" />
<line x1="870.5" y1="681.1" x2="1119.3" y2="681.1" stroke="#222" stroke-width="1.4" />
<line x1="870.5" y1="681.1" x2="880.0" y2="681.1" stroke="#222" stroke-width="1.4" />
<text x="856.5" y="689.3" font-size="22.5" text-anchor="end" textLength="14.0" lengthAdjust="spacingAndGlyphs">0</text>
<line x1="870.5" y1="601.8" x2="880.0" y2="601.8" stroke="#222" stroke-width="1.4" />
<text x="856.5" y="610.0" font-size="22.5" text-anchor="end" textLength="28.0" lengthAdjust="spacingAndGlyphs">20</text>
<line x1="870.5" y1="522.4" x2="880.0" y2="522.4" stroke="#222" stroke-width="1.4" />
<text x="856.5" y="530.6" font-size="22.5" text-anchor="end" textLength="28.0" lengthAdjust="spacingAndGlyphs">40</text>
<line x1="870.5" y1="443.1" x2="880.0" y2="443.1" stroke="#222" stroke-width="1.4" />
<text x="856.5" y="451.3" font-size="22.5" text-anchor="end" textLength="28.0" lengthAdjust="spacingAndGlyphs">60</text>
<line x1="896.9" y1="681.1" x2="896.9" y2="690.5" stroke="#222" stroke-width="1.4" />
<text x="894.9" y="718.3" font-size="22.5" text-anchor="middle" textLength="28.7" lengthAdjust="spacingAndGlyphs">−4</text>
<line x1="947.9" y1="681.1" x2="947.9" y2="690.5" stroke="#222" stroke-width="1.4" />
<text x="945.9" y="718.3" font-size="22.5" text-anchor="middle" textLength="28.7" lengthAdjust="spacingAndGlyphs">−2</text>
<line x1="999.0" y1="681.1" x2="999.0" y2="690.5" stroke="#222" stroke-width="1.4" />
<text x="999.0" y="718.3" font-size="22.5" text-anchor="middle" textLength="14.0" lengthAdjust="spacingAndGlyphs">0</text>
<line x1="1050.1" y1="681.1" x2="1050.1" y2="690.5" stroke="#222" stroke-width="1.4" />
<text x="1050.1" y="718.3" font-size="22.5" text-anchor="middle" textLength="14.0" lengthAdjust="spacingAndGlyphs">2</text>
<line x1="1101.1" y1="681.1" x2="1101.1" y2="690.5" stroke="#222" stroke-width="1.4" />
<text x="1101.1" y="718.3" font-size="22.5" text-anchor="middle" textLength="14.0" lengthAdjust="spacingAndGlyphs">4</text>
<line x1="999.0" y1="443.6" x2="999.0" y2="681.1" stroke="#606060" stroke-width="2.0" stroke-dasharray="8,4"/>
<path d="M1013.5,427.2 L1028.7,427.2 L1021.1,441.2 Z" fill="#444" stroke="none" stroke-width="1" />
<text x="811.5" y="628.3" font-size="28" transform="rotate(-90 811.5 628.3)" textLength="131.3" lengthAdjust="spacingAndGlyphs">No. of rats</text>
<text x="937.1" y="757.6" font-size="28" textLength="123.3" lengthAdjust="spacingAndGlyphs">Low–high</text>
<text x="873.7" y="786.7" font-size="28" textLength="250.6" lengthAdjust="spacingAndGlyphs">detrended init. time</text>
<text x="921.2" y="814.5" font-size="28" textLength="155.6" lengthAdjust="spacingAndGlyphs">(Δ init. time)</text>
<text x="1197.7" y="389.6" font-size="30.55" font-weight="bold" textLength="22.1" lengthAdjust="spacingAndGlyphs" stroke="#000" stroke-width="1.2" stroke-linejoin="round">e</text>
<rect x="1216.3" y="425.6" width="139.7" height="89.4" fill="none" stroke="#000" stroke-width="2.4"/>
<rect x="1256.5" y="557.5" width="59.3" height="41.1" fill="none" stroke="#000" stroke-width="2.4"/>
<rect x="1212.8" y="642.7" width="146.2" height="48.6" fill="none" stroke="#000" stroke-width="2.4"/>
<rect x="1360.9" y="524.6" width="169.7" height="80.7" fill="none" stroke="#000" stroke-width="2.4"/>
<text x="1222.4" y="461.2" font-size="28" textLength="53.1" lengthAdjust="spacingAndGlyphs">Init.</text>
<text x="1221.5" y="488.1" font-size="28" textLength="56.1" lengthAdjust="spacingAndGlyphs">time</text>
<text x="1294.0" y="475.5" font-size="21" text-anchor="middle">~</text>
<text x="1329.0" y="459.3" font-size="28" text-anchor="middle">1</text>
<line x1="1309.5" y1="467.3" x2="1349.7" y2="467.3" stroke="#222" stroke-width="1.3" />
<text x="1319.5" y="497.3" font-size="28" font-style="italic">V<tspan font-size="17" dy="9.5">t</tspan></text>
<text x="1272.0" y="585.5" font-size="28" font-style="italic">R<tspan font-size="17" dy="9">t</tspan></text>
<text x="1226.0" y="676.2" font-size="28" textLength="118" lengthAdjust="spacingAndGlyphs"><tspan font-style="italic">δ</tspan> = <tspan font-style="italic">R</tspan><tspan font-size="17" dy="9" font-style="italic">t</tspan><tspan dy="-9"> − </tspan><tspan font-style="italic">V</tspan><tspan font-size="17" dy="9" font-style="italic">t</tspan></text>
<text x="1257.3" y="720.5" font-size="28" textLength="49.0" lengthAdjust="spacingAndGlyphs">RPE</text>
<text x="1388.3" y="555.5" font-size="28">Update <tspan font-style="italic">V</tspan></text>
<text x="1376.6" y="583.2" font-size="28" textLength="142" lengthAdjust="spacingAndGlyphs"><tspan font-style="italic">V</tspan><tspan font-size="17" dy="9" font-style="italic">t+1</tspan><tspan dy="-9"> = </tspan><tspan font-style="italic">V</tspan><tspan font-size="17" dy="9" font-style="italic">t</tspan><tspan dy="-9"> + </tspan><tspan font-style="italic">αδ</tspan></text>
<line x1="1286.0" y1="519.5" x2="1286.0" y2="542.2" stroke="#000" stroke-width="2.0" />
<path d="M1286.0,549.0 L1281.0,539.0 L1286.0,541.0 L1291.0,539.0Z" fill="#000" stroke="none" stroke-width="1" />
<line x1="1286.0" y1="604.5" x2="1286.0" y2="628.2" stroke="#000" stroke-width="2.0" />
<path d="M1286.0,635.0 L1281.0,625.0 L1286.0,627.0 L1291.0,625.0Z" fill="#000" stroke="none" stroke-width="1" />
<line x1="1369.0" y1="668.4" x2="1436.0" y2="668.4" stroke="#000" stroke-width="2.0" />
<line x1="1435.0" y1="669.3" x2="1435.0" y2="620.3" stroke="#000" stroke-width="2.0" />
<path d="M1435.0,613.5 L1440.0,623.5 L1435.0,621.5 L1430.0,623.5Z" fill="#000" stroke="none" stroke-width="1" />
<line x1="1434.9" y1="510.0" x2="1434.9" y2="462.4" stroke="#000" stroke-width="2.0" />
<line x1="1434.9" y1="463.4" x2="1365.3" y2="463.4" stroke="#000" stroke-width="2.0" />
<path d="M1358.5,463.4 L1368.5,458.4 L1366.5,463.4 L1368.5,468.4Z" fill="#000" stroke="none" stroke-width="1" />
<path d="M1441.8,405.8 L1441.8,405.8 L1442.8,406.4 L1443.8,407.0 L1444.8,407.6 L1445.8,408.2 L1446.8,408.8 L1447.8,409.3 L1448.8,409.9 L1449.8,410.5 L1450.8,411.1 L1451.8,411.6 L1452.8,412.2 L1453.8,412.8 L1454.8,413.3 L1455.8,413.9 L1456.8,414.5 L1457.8,415.0 L1458.8,415.6 L1459.8,416.1 L1460.8,416.6 L1461.8,417.2 L1462.8,417.7 L1463.8,418.2 L1464.8,418.8 L1465.8,419.3 L1466.8,419.8 L1467.8,420.3 L1468.8,420.9 L1469.8,421.4 L1470.8,421.9 L1471.8,422.4 L1472.8,422.9 L1473.8,423.4 L1474.8,423.9 L1475.8,424.4 L1476.8,424.9 L1477.8,425.3 L1478.8,425.8 L1479.8,426.3 L1480.8,426.8 L1481.8,427.3 L1482.8,427.7 L1483.8,428.2 L1484.8,428.6 L1485.8,429.1 L1486.8,429.6 L1487.8,430.0 L1488.8,430.5 L1489.8,430.9 L1490.8,431.3 L1491.8,431.8 L1492.8,432.2 L1493.8,432.6 L1494.8,433.1 L1495.8,433.5 L1496.8,433.9 L1497.8,434.3 L1498.8,434.7 L1499.8,435.1 L1500.8,435.5 L1501.8,435.9 L1502.8,436.3 L1503.8,436.7 L1504.8,437.1 L1505.8,437.5 L1506.8,437.9 L1507.8,438.3 L1508.8,438.6 L1509.8,439.0 L1510.8,439.4 L1511.8,439.7 L1512.8,440.1 L1513.8,440.4 L1514.8,440.8 L1515.8,441.1 L1516.8,441.5 L1517.8,441.8 L1518.8,442.2 L1519.8,442.5 L1520.8,442.8 L1521.8,443.1 L1522.8,443.5 L1523.8,443.8 L1524.8,444.1 L1525.8,444.4 L1526.8,444.7 L1527.8,445.0 L1528.8,445.3 L1529.8,445.6 L1530.8,445.9 L1531.8,446.1 L1532.8,446.4 L1533.8,446.7 L1534.8,446.9 L1535.8,447.2 L1536.8,447.5 L1537.8,447.7 L1538.8,448.0 L1539.8,448.2 L1540.8,448.5 L1541.8,448.7 L1542.8,448.9 L1543.8,449.2 L1544.8,449.4 L1545.8,449.6 L1546.8,449.8 L1547.8,450.0 L1548.8,450.2 L1549.8,450.4 L1550.8,450.6 L1551.8,450.8 L1552.8,451.0 L1553.8,451.1 L1554.8,451.3 L1555.8,451.5 L1556.8,451.6 L1557.8,451.8 L1558.8,451.9 L1559.8,452.1 L1560.8,452.2 L1561.8,452.4 L1562.8,452.5 L1563.8,452.6 L1564.8,452.7 L1565.8,452.8 L1566.8,452.9 L1567.8,453.0 L1568.8,453.1 L1569.8,453.2 L1570.8,453.3 L1571.8,453.3 L1572.8,453.4 L1573.8,453.4 L1573.5,453.5 L1441.8,453.5Z" fill="url(#gV)" stroke="none" stroke-width="1" />
<text x="1427.8" y="443.2" font-size="28" text-anchor="middle" font-style="italic">V</text>
<text x="1496.5" y="410.0" font-size="28" text-anchor="middle" font-style="italic">α</text>
<text x="1451.5" y="482.0" font-size="28" font-style="italic" textLength="100" lengthAdjust="spacingAndGlyphs">R<tspan font-size="17" dy="8">t-1</tspan><tspan dy="-8">,...R</tspan><tspan font-size="17" dy="8">t-n</tspan></text>
<text x="6.1" y="890.3" font-size="36.11" font-weight="bold" textLength="12.4" lengthAdjust="spacingAndGlyphs" stroke="#000" stroke-width="1.2" stroke-linejoin="round">f</text>
<text x="111.3" y="899.5" font-size="28" textLength="238.1" lengthAdjust="spacingAndGlyphs">Males and females</text>
<text x="232.0" y="940.3" font-size="28" text-anchor="middle"><tspan font-style="italic">N</tspan><tspan> = 303</tspan></text>
<line x1="97.6" y1="986.0" x2="253.2" y2="986.0" stroke="#808080" stroke-width="2.0" stroke-dasharray="9,6"/>
<path d="M127.2,1135.5 L169.2,1049.0 L211.2,1005.8 L253.2,984.0 L295.2,984.5 L337.2,984.5 L358.2,984.5 L358.2,987.5 L337.2,987.5 L295.2,987.5 L253.2,988.0 L211.2,1014.4 L169.2,1065.0 L127.2,1186.6Z" fill="#c9c9c9" stroke="none" stroke-width="1" fill-opacity="1.0"/>
<path d="M127.2,1161.4 L169.2,1057.7 L211.2,1009.5 L253.2,986.0 L358.2,986.0" fill="none" stroke="#000" stroke-width="2.6" stroke-linejoin="round" />
<line x1="106.7" y1="951.0" x2="106.7" y2="1196.0" stroke="#222" stroke-width="1.4" />
<line x1="97.6" y1="1195.3" x2="358.2" y2="1195.3" stroke="#222" stroke-width="1.4" />
<line x1="97.6" y1="986.0" x2="106.7" y2="986.0" stroke="#222" stroke-width="1.4" />
<text x="85.5" y="994.2" font-size="22.5" text-anchor="end" textLength="14.0" lengthAdjust="spacingAndGlyphs">0</text>
<line x1="97.6" y1="1055.7" x2="106.7" y2="1055.7" stroke="#222" stroke-width="1.4" />
<text x="85.5" y="1063.9" font-size="22.5" text-anchor="end" textLength="49.7" lengthAdjust="spacingAndGlyphs">−0.1</text>
<line x1="97.6" y1="1125.4" x2="106.7" y2="1125.4" stroke="#222" stroke-width="1.4" />
<text x="85.5" y="1133.6" font-size="22.5" text-anchor="end" textLength="49.7" lengthAdjust="spacingAndGlyphs">−0.2</text>
<line x1="97.6" y1="1195.1" x2="106.7" y2="1195.1" stroke="#222" stroke-width="1.4" />
<text x="85.5" y="1203.3" font-size="22.5" text-anchor="end" textLength="49.7" lengthAdjust="spacingAndGlyphs">−0.3</text>
<line x1="127.2" y1="1195.3" x2="127.2" y2="1204.0" stroke="#222" stroke-width="1.4" />
<line x1="169.2" y1="1195.3" x2="169.2" y2="1204.0" stroke="#222" stroke-width="1.4" />
<line x1="211.2" y1="1195.3" x2="211.2" y2="1204.0" stroke="#222" stroke-width="1.4" />
<line x1="253.2" y1="1195.3" x2="253.2" y2="1204.0" stroke="#222" stroke-width="1.4" />
<line x1="295.2" y1="1195.3" x2="295.2" y2="1204.0" stroke="#222" stroke-width="1.4" />
<line x1="337.2" y1="1195.3" x2="337.2" y2="1204.0" stroke="#222" stroke-width="1.4" />
<text x="109.0" y="1235.5" font-size="28"><tspan font-style="italic">R</tspan><tspan font-style="italic" font-size="17.4" dy="8">t-1</tspan></text>
<text x="327.5" y="1235.5" font-size="28"><tspan font-style="italic">R</tspan><tspan font-style="italic" font-size="17.4" dy="8">t-6</tspan></text>
<text x="126.2" y="1283.7" font-size="28" textLength="218.2" lengthAdjust="spacingAndGlyphs">Previous rewards</text>
<text x="21.3" y="1214.8" font-size="28" transform="rotate(-90 21.3 1214.8)" textLength="281.2" lengthAdjust="spacingAndGlyphs">Regression coefficient</text>
<text x="465.2" y="883.6" font-size="29.07" font-weight="bold" textLength="23.1" lengthAdjust="spacingAndGlyphs" stroke="#000" stroke-width="1.2" stroke-linejoin="round">g</text>
<path d="M622.0,935.3 L723.8,1158.4 L723.8,1178.4 L622.0,955.3Z" fill="#f9d4b6" stroke="none" stroke-width="1" fill-opacity="1.0"/>
<path d="M622.0,961.6 L723.8,1120.0 L723.8,1132.0 L622.0,975.6Z" fill="#cfc6f1" stroke="none" stroke-width="1" fill-opacity="1.0"/>
<path d="M622.0,980.7 L723.8,1100.7 L723.8,1106.7 L622.0,986.7Z" fill="#d0d0d0" stroke="none" stroke-width="1" fill-opacity="1.0"/>
<path d="M622.0,945.3 L723.8,1168.4" fill="none" stroke="#e8720e" stroke-width="2.6" stroke-linejoin="round" />
<path d="M622.0,968.6 L723.8,1126.0" fill="none" stroke="#7458d0" stroke-width="2.6" stroke-linejoin="round" />
<path d="M622.0,983.7 L723.8,1103.7" fill="none" stroke="#000" stroke-width="2.6" stroke-linejoin="round" />
<line x1="571.5" y1="909.7" x2="571.5" y2="1197.7" stroke="#222" stroke-width="1.4" />
<line x1="571.5" y1="1197.0" x2="775.2" y2="1197.0" stroke="#222" stroke-width="1.4" />
<line x1="563.0" y1="960.4" x2="571.5" y2="960.4" stroke="#222" stroke-width="1.4" />
<text x="550.5" y="968.4" font-size="22.5" text-anchor="end" textLength="35.0" lengthAdjust="spacingAndGlyphs">0.5</text>
<line x1="563.0" y1="1044.8" x2="571.5" y2="1044.8" stroke="#222" stroke-width="1.4" />
<text x="550.5" y="1052.8" font-size="22.5" text-anchor="end" textLength="14.0" lengthAdjust="spacingAndGlyphs">0</text>
<line x1="563.0" y1="1129.1" x2="571.5" y2="1129.1" stroke="#222" stroke-width="1.4" />
<text x="550.5" y="1137.1" font-size="22.5" text-anchor="end" textLength="49.7" lengthAdjust="spacingAndGlyphs">−0.5</text>
<line x1="622.0" y1="1197.0" x2="622.0" y2="1205.5" stroke="#222" stroke-width="1.4" />
<line x1="723.8" y1="1197.0" x2="723.8" y2="1205.5" stroke="#222" stroke-width="1.4" />
<text x="623.7" y="922.0" font-size="30" text-anchor="middle">*</text>
<text x="724.3" y="1082.0" font-size="30" text-anchor="middle">*</text>
<text x="657.7" y="920.1" font-size="28" fill="#e8720e" textLength="119.7" lengthAdjust="spacingAndGlyphs">Proestrus</text>
<text x="660.0" y="946.6" font-size="28" fill="#7458d0">Diestrus</text>
<text x="660.0" y="974.0" font-size="28">Male</text>
<text x="620.6" y="1238.2" font-size="22.5" text-anchor="middle" textLength="46.2" lengthAdjust="spacingAndGlyphs">Low</text>
<text x="724.0" y="1234.6" font-size="22.5" text-anchor="middle" textLength="51.8" lengthAdjust="spacingAndGlyphs">High</text>
<text x="584.5" y="1277.0" font-size="28" textLength="172.6" lengthAdjust="spacingAndGlyphs">Reward block</text>
<text x="484.0" y="1203.3" font-size="28" transform="rotate(-90 484.0 1203.3)" textLength="297.8" lengthAdjust="spacingAndGlyphs">Init. time (s, detrended)</text>
<text x="803.7" y="890.9" font-size="35.42" font-weight="bold" textLength="26.8" lengthAdjust="spacingAndGlyphs" stroke="#000" stroke-width="1.2" stroke-linejoin="round">h</text>
<g stroke="#000" stroke-opacity="0.2" stroke-width="1.9">
<line x1="934.2" y1="954.1" x2="1015.9" y2="1103.0"/>
<line x1="934.2" y1="989.4" x2="1015.9" y2="1067.7"/>
<line x1="934.2" y1="1000.1" x2="1015.9" y2="1112.2"/>
<line x1="934.2" y1="1003.2" x2="1015.9" y2="1095.3"/>
<line x1="934.2" y1="1006.3" x2="1015.9" y2="1124.5"/>
<line x1="934.2" y1="1024.7" x2="1015.9" y2="1079.9"/>
<line x1="934.2" y1="1033.9" x2="1015.9" y2="994.0"/>
<line x1="934.2" y1="1013.9" x2="1015.9" y2="1043.1"/>
<line x1="934.2" y1="1187.4" x2="1015.9" y2="1135.2"/>
<line x1="934.2" y1="1167.4" x2="1015.9" y2="1132.1"/>
<line x1="934.2" y1="1161.3" x2="1015.9" y2="1126.0"/>
<line x1="934.2" y1="1153.6" x2="1015.9" y2="1165.9"/>
<line x1="934.2" y1="1132.1" x2="1015.9" y2="1132.1"/>
<line x1="934.2" y1="1037.0" x2="1015.9" y2="1044.6"/>
<line x1="934.2" y1="1046.2" x2="1015.9" y2="1055.4"/>
<line x1="934.2" y1="1052.3" x2="1015.9" y2="1046.2"/>
<line x1="934.2" y1="1009.3" x2="1015.9" y2="1058.5"/>
<line x1="934.2" y1="1027.8" x2="1015.9" y2="1129.1"/>
<line x1="934.2" y1="1144.4" x2="1015.9" y2="1119.9"/>
<line x1="934.2" y1="1135.2" x2="1015.9" y2="1110.6"/>
<line x1="934.2" y1="1098.9" x2="1015.9" y2="1101.9"/>
<line x1="934.2" y1="1098.1" x2="1015.9" y2="1113.1"/>
<line x1="934.2" y1="1116.5" x2="1015.9" y2="1117.2"/>
<line x1="934.2" y1="1063.2" x2="1015.9" y2="1092.4"/>
<line x1="934.2" y1="1065.2" x2="1015.9" y2="1095.4"/>
<line x1="934.2" y1="1081.9" x2="1015.9" y2="1101.3"/>
<line x1="934.2" y1="1132.1" x2="1015.9" y2="1107.1"/>
<line x1="934.2" y1="1079.0" x2="1015.9" y2="1096.1"/>
<line x1="934.2" y1="1132.1" x2="1015.9" y2="1133.7"/>
<line x1="934.2" y1="1115.4" x2="1015.9" y2="1120.4"/>
<line x1="934.2" y1="1084.2" x2="1015.9" y2="1105.2"/>
<line x1="934.2" y1="1078.6" x2="1015.9" y2="1111.8"/>
<line x1="934.2" y1="1084.2" x2="1015.9" y2="1099.1"/>
<line x1="934.2" y1="1109.5" x2="1015.9" y2="1088.4"/>
<line x1="934.2" y1="1077.7" x2="1015.9" y2="1086.1"/>
<line x1="934.2" y1="1108.4" x2="1015.9" y2="1122.0"/>
<line x1="934.2" y1="1101.2" x2="1015.9" y2="1111.1"/>
<line x1="934.2" y1="1075.7" x2="1015.9" y2="1098.6"/>
<line x1="934.2" y1="1103.9" x2="1015.9" y2="1123.7"/>
<line x1="934.2" y1="1105.8" x2="1015.9" y2="1094.2"/>
<line x1="934.2" y1="1113.3" x2="1015.9" y2="1109.9"/>
<line x1="934.2" y1="1081.1" x2="1015.9" y2="1124.2"/>
<line x1="934.2" y1="1091.0" x2="1015.9" y2="1088.5"/>
<line x1="934.2" y1="1132.1" x2="1015.9" y2="1123.4"/>
<line x1="934.2" y1="1095.0" x2="1015.9" y2="1119.1"/>
<line x1="934.2" y1="1079.2" x2="1015.9" y2="1103.9"/>
<line x1="934.2" y1="1130.4" x2="1015.9" y2="1107.0"/>
<line x1="934.2" y1="1074.8" x2="1015.9" y2="1088.6"/>
<line x1="934.2" y1="1054.6" x2="1015.9" y2="1090.7"/>
<line x1="934.2" y1="1089.1" x2="1015.9" y2="1124.0"/>
<line x1="934.2" y1="1076.2" x2="1015.9" y2="1110.6"/>
<line x1="934.2" y1="1104.0" x2="1015.9" y2="1128.0"/>
<line x1="934.2" y1="1117.5" x2="1015.9" y2="1121.9"/>
<line x1="934.2" y1="1058.6" x2="1015.9" y2="1124.9"/>
<line x1="934.2" y1="1130.3" x2="1015.9" y2="1115.1"/>
<line x1="934.2" y1="1054.6" x2="1015.9" y2="1087.7"/>
<line x1="934.2" y1="1132.1" x2="1015.9" y2="1133.7"/>
<line x1="934.2" y1="1082.9" x2="1015.9" y2="1114.3"/>
<line x1="934.2" y1="1121.4" x2="1015.9" y2="1102.2"/>
<line x1="934.2" y1="1063.5" x2="1015.9" y2="1096.2"/>
<line x1="934.2" y1="1085.8" x2="1015.9" y2="1099.0"/>
<line x1="934.2" y1="1050.6" x2="1015.9" y2="1085.9"/>
<line x1="934.2" y1="1078.7" x2="1015.9" y2="1095.3"/>
<line x1="934.2" y1="1132.1" x2="1015.9" y2="1101.2"/>
<line x1="934.2" y1="1067.3" x2="1015.9" y2="1092.2"/>
<line x1="934.2" y1="1132.1" x2="1015.9" y2="1127.7"/>
<line x1="934.2" y1="1070.2" x2="1015.9" y2="1125.4"/>
<line x1="934.2" y1="1097.0" x2="1015.9" y2="1094.3"/>
<line x1="934.2" y1="1126.4" x2="1015.9" y2="1095.0"/>
<line x1="934.2" y1="1077.8" x2="1015.9" y2="1104.7"/>
<line x1="934.2" y1="1083.7" x2="1015.9" y2="1095.4"/>
<line x1="934.2" y1="1089.1" x2="1015.9" y2="1090.2"/>
<line x1="934.2" y1="1109.5" x2="1015.9" y2="1117.9"/>
<line x1="934.2" y1="1065.0" x2="1015.9" y2="1098.4"/>
<line x1="934.2" y1="1115.2" x2="1015.9" y2="1100.8"/>
<line x1="934.2" y1="1054.0" x2="1015.9" y2="1101.6"/>
<line x1="934.2" y1="1128.2" x2="1015.9" y2="1119.6"/>
<line x1="934.2" y1="1096.1" x2="1015.9" y2="1112.2"/>
<line x1="934.2" y1="1055.6" x2="1015.9" y2="1110.1"/>
<line x1="934.2" y1="1059.3" x2="1015.9" y2="1114.6"/>
<line x1="934.2" y1="1112.8" x2="1015.9" y2="1104.4"/>
<line x1="934.2" y1="1062.8" x2="1015.9" y2="1086.3"/>
<line x1="934.2" y1="1083.2" x2="1015.9" y2="1102.3"/>
<line x1="934.2" y1="1088.2" x2="1015.9" y2="1097.8"/>
<line x1="934.2" y1="1096.8" x2="1015.9" y2="1104.5"/>
<line x1="934.2" y1="1077.3" x2="1015.9" y2="1102.5"/>
<line x1="934.2" y1="1072.3" x2="1015.9" y2="1093.2"/>
<line x1="934.2" y1="1039.8" x2="1015.9" y2="1086.7"/>
<line x1="934.2" y1="1103.4" x2="1015.9" y2="1115.5"/>
<line x1="934.2" y1="1092.6" x2="1015.9" y2="1094.3"/>
<line x1="934.2" y1="1101.0" x2="1015.9" y2="1104.3"/>
<line x1="934.2" y1="1044.3" x2="1015.9" y2="1128.0"/>
<line x1="934.2" y1="1121.5" x2="1015.9" y2="1112.4"/>
<line x1="934.2" y1="1081.8" x2="1015.9" y2="1100.5"/>
<line x1="934.2" y1="1103.5" x2="1015.9" y2="1101.3"/>
<line x1="934.2" y1="1084.9" x2="1015.9" y2="1112.0"/>
<line x1="934.2" y1="1033.9" x2="1015.9" y2="1084.6"/>
<line x1="934.2" y1="1106.7" x2="1015.9" y2="1112.7"/>
<line x1="934.2" y1="1098.1" x2="1015.9" y2="1109.6"/>
<line x1="934.2" y1="1132.1" x2="1015.9" y2="1125.7"/>
<line x1="934.2" y1="1065.9" x2="1015.9" y2="1115.2"/>
<line x1="934.2" y1="1094.0" x2="1015.9" y2="1094.3"/>
<line x1="934.2" y1="1069.9" x2="1015.9" y2="1079.7"/>
<line x1="934.2" y1="1132.1" x2="1015.9" y2="1123.8"/>
<line x1="934.2" y1="1101.1" x2="1015.9" y2="1101.0"/>
<line x1="934.2" y1="1063.7" x2="1015.9" y2="1133.7"/>
<line x1="934.2" y1="1063.8" x2="1015.9" y2="1118.4"/>
<line x1="934.2" y1="1074.4" x2="1015.9" y2="1122.2"/>
<line x1="934.2" y1="1087.6" x2="1015.9" y2="1089.1"/>
<line x1="934.2" y1="1096.1" x2="1015.9" y2="1105.5"/>
<line x1="934.2" y1="1071.4" x2="1015.9" y2="1098.8"/>
<line x1="934.2" y1="1094.5" x2="1015.9" y2="1086.5"/>
<line x1="934.2" y1="1064.9" x2="1015.9" y2="1102.8"/>
<line x1="934.2" y1="1033.9" x2="1015.9" y2="1105.3"/>
<line x1="934.2" y1="1068.4" x2="1015.9" y2="1103.5"/>
<line x1="934.2" y1="1088.8" x2="1015.9" y2="1096.2"/>
<line x1="934.2" y1="1086.4" x2="1015.9" y2="1096.4"/>
<line x1="934.2" y1="1132.1" x2="1015.9" y2="1133.7"/>
<line x1="934.2" y1="1076.2" x2="1015.9" y2="1115.4"/>
<line x1="934.2" y1="1119.0" x2="1015.9" y2="1133.7"/>
<line x1="934.2" y1="1059.2" x2="1015.9" y2="1086.7"/>
<line x1="934.2" y1="1053.8" x2="1015.9" y2="1108.4"/>
<line x1="934.2" y1="1092.2" x2="1015.9" y2="1122.7"/>
<line x1="934.2" y1="1072.2" x2="1015.9" y2="1079.0"/>
<line x1="934.2" y1="1115.5" x2="1015.9" y2="1092.4"/>
<line x1="934.2" y1="1066.4" x2="1015.9" y2="1101.7"/>
<line x1="934.2" y1="1132.1" x2="1015.9" y2="1099.5"/>
<line x1="934.2" y1="1094.7" x2="1015.9" y2="1116.0"/>
<line x1="934.2" y1="1081.8" x2="1015.9" y2="1098.2"/>
<line x1="934.2" y1="1053.1" x2="1015.9" y2="1109.3"/>
<line x1="934.2" y1="1062.6" x2="1015.9" y2="1077.5"/>
<line x1="934.2" y1="1054.3" x2="1015.9" y2="1098.1"/>
<line x1="934.2" y1="1111.6" x2="1015.9" y2="1098.7"/>
<line x1="934.2" y1="1089.2" x2="1015.9" y2="1104.3"/>
<line x1="934.2" y1="1055.1" x2="1015.9" y2="1099.4"/>
<line x1="934.2" y1="1132.1" x2="1015.9" y2="1124.3"/>
<line x1="934.2" y1="1132.1" x2="1015.9" y2="1107.6"/>
<line x1="934.2" y1="1083.9" x2="1015.9" y2="1112.9"/>
<line x1="934.2" y1="1092.5" x2="1015.9" y2="1095.5"/>
<line x1="934.2" y1="1090.2" x2="1015.9" y2="1088.0"/>
<line x1="934.2" y1="1093.8" x2="1015.9" y2="1093.1"/>
<line x1="934.2" y1="1053.3" x2="1015.9" y2="1073.0"/>
<line x1="934.2" y1="1109.8" x2="1015.9" y2="1100.1"/>
<line x1="934.2" y1="1132.1" x2="1015.9" y2="1133.7"/>
<line x1="934.2" y1="1132.1" x2="1015.9" y2="1104.2"/>
<line x1="934.2" y1="1124.4" x2="1015.9" y2="1116.8"/>
<line x1="934.2" y1="1097.2" x2="1015.9" y2="1108.9"/>
<line x1="934.2" y1="1107.7" x2="1015.9" y2="1108.4"/>
<line x1="934.2" y1="1045.5" x2="1015.9" y2="1092.3"/>
<line x1="934.2" y1="1078.4" x2="1015.9" y2="1089.0"/>
<line x1="934.2" y1="1097.4" x2="1015.9" y2="1125.9"/>
<line x1="934.2" y1="1106.7" x2="1015.9" y2="1096.5"/>
<line x1="934.2" y1="1132.1" x2="1015.9" y2="1127.2"/>
<line x1="934.2" y1="1065.9" x2="1015.9" y2="1088.1"/>
<line x1="934.2" y1="1092.0" x2="1015.9" y2="1095.8"/>
</g>
<g fill="#000" fill-opacity="0.11">
<circle cx="1092.2" cy="1110.0" r="3.6"/>
<circle cx="1087.1" cy="1110.4" r="3.6"/>
<circle cx="1094.2" cy="1123.8" r="3.6"/>
<circle cx="1093.0" cy="1117.2" r="3.6"/>
<circle cx="1099.7" cy="1139.8" r="3.6"/>
<circle cx="1089.7" cy="1090.2" r="3.6"/>
<circle cx="1093.7" cy="1139.8" r="3.6"/>
<circle cx="1100.0" cy="1107.9" r="3.6"/>
<circle cx="1099.7" cy="1066.5" r="3.6"/>
<circle cx="1087.7" cy="1106.4" r="3.6"/>
<circle cx="1090.9" cy="1116.2" r="3.6"/>
<circle cx="1089.3" cy="1087.2" r="3.6"/>
<circle cx="1096.6" cy="1099.8" r="3.6"/>
<circle cx="1097.5" cy="1087.9" r="3.6"/>
<circle cx="1100.6" cy="1126.3" r="3.6"/>
<circle cx="1102.2" cy="1108.4" r="3.6"/>
<circle cx="1098.9" cy="1095.9" r="3.6"/>
<circle cx="1098.6" cy="1100.7" r="3.6"/>
<circle cx="1098.0" cy="1116.9" r="3.6"/>
<circle cx="1085.1" cy="1104.0" r="3.6"/>
<circle cx="1099.5" cy="1112.5" r="3.6"/>
<circle cx="1100.7" cy="1113.0" r="3.6"/>
<circle cx="1093.2" cy="1091.9" r="3.6"/>
<circle cx="1107.1" cy="1095.1" r="3.6"/>
<circle cx="1096.0" cy="1065.7" r="3.6"/>
<circle cx="1099.0" cy="1116.6" r="3.6"/>
<circle cx="1091.4" cy="1058.5" r="3.6"/>
<circle cx="1102.2" cy="1088.7" r="3.6"/>
<circle cx="1103.5" cy="1120.9" r="3.6"/>
<circle cx="1100.7" cy="1112.9" r="3.6"/>
<circle cx="1100.5" cy="1111.7" r="3.6"/>
<circle cx="1099.1" cy="1103.9" r="3.6"/>
<circle cx="1106.0" cy="1119.5" r="3.6"/>
<circle cx="1098.1" cy="1120.2" r="3.6"/>
<circle cx="1098.5" cy="1063.8" r="3.6"/>
<circle cx="1097.1" cy="1120.1" r="3.6"/>
<circle cx="1097.2" cy="1106.6" r="3.6"/>
<circle cx="1100.5" cy="1125.9" r="3.6"/>
<circle cx="1101.8" cy="1124.2" r="3.6"/>
<circle cx="1097.6" cy="1100.4" r="3.6"/>
<circle cx="1091.3" cy="1117.1" r="3.6"/>
<circle cx="1099.5" cy="1114.7" r="3.6"/>
<circle cx="1101.6" cy="1093.0" r="3.6"/>
<circle cx="1099.9" cy="1109.4" r="3.6"/>
<circle cx="1092.7" cy="1099.0" r="3.6"/>
<circle cx="1102.3" cy="1111.6" r="3.6"/>
<circle cx="1102.6" cy="1104.5" r="3.6"/>
<circle cx="1094.9" cy="1078.6" r="3.6"/>
<circle cx="1111.1" cy="1111.0" r="3.6"/>
<circle cx="1098.3" cy="1112.5" r="3.6"/>
<circle cx="1099.0" cy="1127.2" r="3.6"/>
<circle cx="1098.1" cy="1113.5" r="3.6"/>
<circle cx="1100.8" cy="1094.3" r="3.6"/>
<circle cx="1101.5" cy="1115.3" r="3.6"/>
<circle cx="1096.6" cy="1133.3" r="3.6"/>
<circle cx="1088.1" cy="1117.8" r="3.6"/>
<circle cx="1110.9" cy="1129.3" r="3.6"/>
<circle cx="1091.0" cy="1059.4" r="3.6"/>
<circle cx="1093.7" cy="1098.1" r="3.6"/>
<circle cx="1095.6" cy="1109.5" r="3.6"/>
<circle cx="1097.8" cy="1136.6" r="3.6"/>
<circle cx="1092.2" cy="1104.3" r="3.6"/>
<circle cx="1091.1" cy="1120.3" r="3.6"/>
<circle cx="1098.6" cy="1105.4" r="3.6"/>
<circle cx="1103.9" cy="1092.8" r="3.6"/>
<circle cx="1093.1" cy="1124.7" r="3.6"/>
<circle cx="1098.1" cy="1113.2" r="3.6"/>
<circle cx="1092.2" cy="1112.3" r="3.6"/>
<circle cx="1096.5" cy="1114.7" r="3.6"/>
<circle cx="1100.1" cy="1112.2" r="3.6"/>
<circle cx="1094.7" cy="1113.3" r="3.6"/>
<circle cx="1097.2" cy="1097.3" r="3.6"/>
<circle cx="1099.1" cy="1131.6" r="3.6"/>
<circle cx="1093.3" cy="1089.0" r="3.6"/>
<circle cx="1106.3" cy="1112.7" r="3.6"/>
<circle cx="1097.8" cy="1083.7" r="3.6"/>
<circle cx="1091.3" cy="1121.5" r="3.6"/>
<circle cx="1103.9" cy="1116.1" r="3.6"/>
<circle cx="1098.6" cy="1118.5" r="3.6"/>
<circle cx="1111.2" cy="1101.0" r="3.6"/>
<circle cx="1098.7" cy="1098.0" r="3.6"/>
<circle cx="1097.0" cy="1098.4" r="3.6"/>
<circle cx="1109.8" cy="1104.4" r="3.6"/>
<circle cx="1096.7" cy="1118.4" r="3.6"/>
<circle cx="1097.3" cy="1105.6" r="3.6"/>
<circle cx="1097.5" cy="1139.1" r="3.6"/>
<circle cx="1108.7" cy="1109.0" r="3.6"/>
<circle cx="1098.2" cy="1111.1" r="3.6"/>
<circle cx="1099.4" cy="1122.6" r="3.6"/>
<circle cx="1101.7" cy="1118.4" r="3.6"/>
<circle cx="1098.2" cy="1090.7" r="3.6"/>
<circle cx="1105.9" cy="1090.7" r="3.6"/>
<circle cx="1095.7" cy="1103.5" r="3.6"/>
<circle cx="1109.5" cy="1139.8" r="3.6"/>
<circle cx="1102.2" cy="1120.9" r="3.6"/>
<circle cx="1098.8" cy="1106.5" r="3.6"/>
<circle cx="1109.5" cy="1118.9" r="3.6"/>
<circle cx="1104.1" cy="1113.7" r="3.6"/>
<circle cx="1107.0" cy="1134.7" r="3.6"/>
<circle cx="1091.6" cy="1105.3" r="3.6"/>
<circle cx="1095.8" cy="1097.0" r="3.6"/>
<circle cx="1100.6" cy="1092.2" r="3.6"/>
<circle cx="1090.9" cy="1111.9" r="3.6"/>
<circle cx="1101.6" cy="1084.1" r="3.6"/>
<circle cx="1098.9" cy="1123.8" r="3.6"/>
<circle cx="1084.5" cy="1114.6" r="3.6"/>
<circle cx="1094.6" cy="1118.2" r="3.6"/>
<circle cx="1100.0" cy="1118.3" r="3.6"/>
<circle cx="1108.6" cy="1104.8" r="3.6"/>
<circle cx="1108.8" cy="1106.9" r="3.6"/>
<circle cx="1098.9" cy="1118.9" r="3.6"/>
<circle cx="1100.6" cy="1085.0" r="3.6"/>
<circle cx="1104.6" cy="1113.1" r="3.6"/>
<circle cx="1092.9" cy="1112.2" r="3.6"/>
<circle cx="1097.4" cy="1124.6" r="3.6"/>
<circle cx="1099.6" cy="1102.6" r="3.6"/>
<circle cx="1102.3" cy="1101.4" r="3.6"/>
<circle cx="1095.5" cy="1106.3" r="3.6"/>
<circle cx="1103.2" cy="1112.0" r="3.6"/>
<circle cx="1095.3" cy="1088.2" r="3.6"/>
<circle cx="1098.3" cy="1108.9" r="3.6"/>
<circle cx="1094.6" cy="1100.6" r="3.6"/>
<circle cx="1098.1" cy="1099.3" r="3.6"/>
<circle cx="1089.4" cy="1100.6" r="3.6"/>
<circle cx="1100.5" cy="1112.1" r="3.6"/>
<circle cx="1097.0" cy="1131.5" r="3.6"/>
<circle cx="1091.0" cy="1115.5" r="3.6"/>
<circle cx="1099.8" cy="1061.7" r="3.6"/>
<circle cx="1109.3" cy="1109.0" r="3.6"/>
<circle cx="1100.6" cy="1114.4" r="3.6"/>
<circle cx="1092.3" cy="1125.3" r="3.6"/>
<circle cx="1100.7" cy="1098.0" r="3.6"/>
<circle cx="1100.4" cy="1119.2" r="3.6"/>
<circle cx="1098.4" cy="1101.3" r="3.6"/>
<circle cx="1096.3" cy="1094.2" r="3.6"/>
<circle cx="1098.7" cy="1121.5" r="3.6"/>
<circle cx="1096.2" cy="1092.7" r="3.6"/>
<circle cx="1098.9" cy="1097.2" r="3.6"/>
<circle cx="1100.0" cy="1120.9" r="3.6"/>
<circle cx="1096.5" cy="1080.8" r="3.6"/>
<circle cx="1101.7" cy="1129.3" r="3.6"/>
<circle cx="1090.3" cy="1106.0" r="3.6"/>
<circle cx="1110.8" cy="1102.7" r="3.6"/>
<circle cx="1094.8" cy="1108.2" r="3.6"/>
<circle cx="1093.9" cy="1111.5" r="3.6"/>
<circle cx="1098.2" cy="1120.5" r="3.6"/>
<circle cx="1101.8" cy="1128.7" r="3.6"/>
<circle cx="1102.1" cy="1104.4" r="3.6"/>
<circle cx="1097.7" cy="1092.7" r="3.6"/>
<circle cx="1104.7" cy="1133.8" r="3.6"/>
<circle cx="1080.9" cy="1117.0" r="3.6"/>
<circle cx="1100.9" cy="1116.1" r="3.6"/>
<circle cx="1096.8" cy="1112.3" r="3.6"/>
<circle cx="1101.4" cy="1121.2" r="3.6"/>
<circle cx="1098.4" cy="1111.7" r="3.6"/>
<circle cx="1108.1" cy="1131.3" r="3.6"/>
<circle cx="1097.3" cy="1103.6" r="3.6"/>
<circle cx="1089.7" cy="1101.8" r="3.6"/>
<circle cx="1099.8" cy="1098.3" r="3.6"/>
<circle cx="1096.5" cy="1104.8" r="3.6"/>
<circle cx="1097.4" cy="1109.6" r="3.6"/>
<circle cx="1090.2" cy="1093.8" r="3.6"/>
<circle cx="1102.4" cy="1085.4" r="3.6"/>
<circle cx="1087.4" cy="1112.6" r="3.6"/>
<circle cx="1110.6" cy="1116.7" r="3.6"/>
<circle cx="1106.0" cy="1113.7" r="3.6"/>
<circle cx="1098.5" cy="1112.4" r="3.6"/>
<circle cx="1094.5" cy="1096.4" r="3.6"/>
<circle cx="1098.7" cy="1102.9" r="3.6"/>
<circle cx="1094.8" cy="1081.4" r="3.6"/>
</g>
<line x1="924.7" y1="1091.0" x2="943.7" y2="1091.0" stroke="#000" stroke-width="1.6" />
<line x1="924.7" y1="1096.0" x2="943.7" y2="1096.0" stroke="#000" stroke-width="1.6" />
<line x1="934.2" y1="1091.0" x2="934.2" y2="1096.0" stroke="#000" stroke-width="1.6" />
<circle cx="934.2" cy="1093.5" r="8.8" fill="#000" />
<line x1="1006.4" y1="1104.3" x2="1025.4" y2="1104.3" stroke="#000" stroke-width="1.6" />
<line x1="1006.4" y1="1109.3" x2="1025.4" y2="1109.3" stroke="#000" stroke-width="1.6" />
<line x1="1015.9" y1="1104.3" x2="1015.9" y2="1109.3" stroke="#000" stroke-width="1.6" />
<circle cx="1015.9" cy="1106.8" r="8.8" fill="#000" />
<line x1="1088.6" y1="1110.9" x2="1107.6" y2="1110.9" stroke="#000" stroke-width="1.6" />
<line x1="1088.6" y1="1115.9" x2="1107.6" y2="1115.9" stroke="#000" stroke-width="1.6" />
<line x1="1098.1" y1="1110.9" x2="1098.1" y2="1115.9" stroke="#000" stroke-width="1.6" />
<circle cx="1098.1" cy="1113.4" r="8.8" fill="#000" />
<line x1="893.5" y1="951.4" x2="893.5" y2="1197.7" stroke="#222" stroke-width="1.4" />
<line x1="884.7" y1="1197.0" x2="1138.8" y2="1197.0" stroke="#222" stroke-width="1.4" />
<line x1="884.7" y1="951.0" x2="893.5" y2="951.0" stroke="#222" stroke-width="1.4" />
<text x="872.3" y="959.0" font-size="22.5" text-anchor="end" textLength="14.0" lengthAdjust="spacingAndGlyphs">6</text>
<line x1="884.7" y1="1012.4" x2="893.5" y2="1012.4" stroke="#222" stroke-width="1.4" />
<text x="872.3" y="1020.4" font-size="22.5" text-anchor="end" textLength="14.0" lengthAdjust="spacingAndGlyphs">4</text>
<line x1="884.7" y1="1073.8" x2="893.5" y2="1073.8" stroke="#222" stroke-width="1.4" />
<text x="872.3" y="1081.8" font-size="22.5" text-anchor="end" textLength="14.0" lengthAdjust="spacingAndGlyphs">2</text>
<line x1="884.7" y1="1135.2" x2="893.5" y2="1135.2" stroke="#222" stroke-width="1.4" />
<text x="872.3" y="1143.2" font-size="22.5" text-anchor="end" textLength="14.0" lengthAdjust="spacingAndGlyphs">0</text>
<line x1="884.7" y1="1196.6" x2="893.5" y2="1196.6" stroke="#222" stroke-width="1.4" />
<text x="872.3" y="1204.6" font-size="22.5" text-anchor="end" textLength="28.7" lengthAdjust="spacingAndGlyphs">−2</text>
<line x1="934.2" y1="1197.0" x2="934.2" y2="1205.5" stroke="#222" stroke-width="1.4" />
<line x1="1015.9" y1="1197.0" x2="1015.9" y2="1205.5" stroke="#222" stroke-width="1.4" />
<line x1="1098.1" y1="1197.0" x2="1098.1" y2="1205.5" stroke="#222" stroke-width="1.4" />
<line x1="933.2" y1="915.0" x2="1096.4" y2="915.0" stroke="#222" stroke-width="1.4" />
<line x1="933.2" y1="944.4" x2="1007.9" y2="944.4" stroke="#222" stroke-width="1.4" />
<line x1="1023.2" y1="944.4" x2="1097.6" y2="944.4" stroke="#222" stroke-width="1.4" />
<text x="1012.3" y="914.5" font-size="30" text-anchor="middle">*</text>
<text x="968.6" y="947.3" font-size="30" text-anchor="middle">*</text>
<text x="1058.3" y="947.3" font-size="30" text-anchor="middle">*</text>
<text x="946.8" y="1226.6" font-size="28" text-anchor="end" transform="rotate(-45 946.8 1226.6)">Proestrus</text>
<text x="1028.7" y="1225.7" font-size="28" text-anchor="end" transform="rotate(-45 1028.7 1225.7)">Diestrus</text>
<text x="1110.4" y="1222.8" font-size="28" text-anchor="end" transform="rotate(-45 1110.4 1222.8)">Males</text>
<text x="841.5" y="1142.1" font-size="28" transform="rotate(-90 841.5 1142.1)" textLength="136.8" lengthAdjust="spacingAndGlyphs">Δ init. time</text>
<text x="1196.2" y="891.4" font-size="39.72" font-weight="bold" textLength="13.5" lengthAdjust="spacingAndGlyphs" stroke="#000" stroke-width="1.2" stroke-linejoin="round">i</text>
<text x="1267.1" y="888.5" font-size="28" fill="#0808ff" textLength="136.5" lengthAdjust="spacingAndGlyphs">High value</text>
<text x="1487.0" y="888.5" font-size="28" fill="#0808ff" textLength="121.2" lengthAdjust="spacingAndGlyphs">low value</text>
<text x="1273.6" y="917.8" font-size="28" fill="#fa0808" textLength="130.0" lengthAdjust="spacingAndGlyphs">Low value</text>
<text x="1489.0" y="917.8" font-size="28" fill="#fa0808">high value</text>
<line x1="1425.0" y1="878.0" x2="1459.9" y2="878.0" stroke="#0808ff" stroke-width="2.2" />
<path d="M1467.8,878.0 L1454.8,883.2 L1458.7,878.0 L1454.8,872.8Z" fill="#0808ff" stroke="none" stroke-width="1" />
<line x1="1425.0" y1="907.8" x2="1459.9" y2="907.8" stroke="#fa0808" stroke-width="2.2" />
<path d="M1467.8,907.8 L1454.8,913.0 L1458.7,907.8 L1454.8,902.6Z" fill="#fa0808" stroke="none" stroke-width="1" />
<path d="M1280.6,1062.9 L1288.6,1066.8 L1296.7,1059.7 L1304.8,1060.7 L1312.8,1062.9 L1320.8,1064.0 L1328.9,1064.0 L1336.9,1062.9 L1345.0,1065.1 L1353.0,1065.5 L1361.1,1062.9 L1369.1,1067.2 L1377.2,1071.5 L1385.2,1078.0 L1393.3,1084.5 L1401.3,1087.7 L1409.4,1090.9 L1417.4,1097.4 L1425.5,1104.9 L1433.5,1109.2 L1441.6,1111.4 L1449.6,1113.6 L1457.7,1120.0 L1465.8,1126.5 L1473.8,1130.8 L1481.8,1133.0 L1489.9,1133.0 L1497.9,1136.2 L1506.0,1134.0 L1514.0,1135.1 L1522.1,1132.3 L1530.1,1133.0 L1538.2,1130.8 L1546.2,1128.6 L1554.3,1127.6 L1562.3,1125.4 L1570.4,1123.3 L1578.4,1122.2 L1586.5,1122.2 L1594.5,1126.5 L1602.6,1124.3 L1602.6,1140.3 L1594.5,1142.5 L1586.5,1138.2 L1578.4,1138.2 L1570.4,1139.3 L1562.3,1141.4 L1554.3,1143.6 L1546.2,1144.6 L1538.2,1146.8 L1530.1,1149.0 L1522.1,1148.3 L1514.0,1151.1 L1506.0,1150.0 L1497.9,1152.2 L1489.9,1149.0 L1481.8,1149.0 L1473.8,1146.8 L1465.8,1142.5 L1457.7,1136.0 L1449.6,1129.6 L1441.6,1127.4 L1433.5,1125.2 L1425.5,1120.9 L1417.4,1113.4 L1409.4,1106.9 L1401.3,1103.7 L1393.3,1100.5 L1385.2,1094.0 L1377.2,1087.5 L1369.1,1083.2 L1361.1,1078.9 L1353.0,1081.5 L1345.0,1081.1 L1336.9,1078.9 L1328.9,1080.0 L1320.8,1080.0 L1312.8,1078.9 L1304.8,1076.7 L1296.7,1075.7 L1288.6,1082.8 L1280.6,1078.9Z" fill="#f8bcbc" stroke="none" stroke-width="1" fill-opacity="0.8"/>
<path d="M1280.6,1056.7 L1288.6,1056.3 L1296.7,1055.8 L1304.8,1055.4 L1312.8,1055.2 L1320.8,1055.0 L1328.9,1054.5 L1336.9,1054.8 L1345.0,1055.2 L1353.0,1054.1 L1361.1,1056.3 L1369.1,1058.9 L1377.2,1061.7 L1385.2,1064.9 L1393.3,1068.1 L1401.3,1071.4 L1409.4,1074.6 L1417.4,1077.8 L1425.5,1084.3 L1433.5,1087.5 L1441.6,1089.7 L1449.6,1092.9 L1457.7,1096.2 L1465.8,1101.5 L1473.8,1105.9 L1481.8,1108.0 L1489.9,1109.1 L1497.9,1109.1 L1506.0,1110.2 L1514.0,1111.2 L1522.1,1109.1 L1530.1,1108.0 L1538.2,1108.0 L1546.2,1108.4 L1554.3,1108.0 L1562.3,1106.9 L1570.4,1104.8 L1578.4,1103.7 L1586.5,1101.5 L1594.5,1099.8 L1602.6,1101.5 L1602.6,1113.5 L1594.5,1111.8 L1586.5,1113.5 L1578.4,1115.7 L1570.4,1116.8 L1562.3,1118.9 L1554.3,1120.0 L1546.2,1120.4 L1538.2,1120.0 L1530.1,1120.0 L1522.1,1121.1 L1514.0,1123.2 L1506.0,1122.2 L1497.9,1121.1 L1489.9,1121.1 L1481.8,1120.0 L1473.8,1117.9 L1465.8,1113.5 L1457.7,1108.2 L1449.6,1104.9 L1441.6,1101.7 L1433.5,1099.5 L1425.5,1096.3 L1417.4,1089.8 L1409.4,1086.6 L1401.3,1083.4 L1393.3,1080.1 L1385.2,1076.9 L1377.2,1073.7 L1369.1,1070.9 L1361.1,1068.3 L1353.0,1066.1 L1345.0,1067.2 L1336.9,1066.8 L1328.9,1066.5 L1320.8,1067.0 L1312.8,1067.2 L1304.8,1067.4 L1296.7,1067.8 L1288.6,1068.3 L1280.6,1068.7Z" fill="#f8bcbc" stroke="none" stroke-width="1" fill-opacity="0.8"/>
<path d="M1280.6,1082.4 L1288.6,1083.5 L1296.7,1078.1 L1304.8,1077.6 L1312.8,1077.4 L1320.8,1077.0 L1328.9,1080.2 L1336.9,1078.7 L1345.0,1081.3 L1353.0,1079.1 L1361.1,1078.7 L1369.1,1075.9 L1377.2,1069.4 L1385.2,1061.9 L1393.3,1053.3 L1401.3,1046.8 L1409.4,1042.5 L1417.4,1036.0 L1425.5,1028.5 L1433.5,1019.9 L1441.6,1011.2 L1449.6,1003.7 L1457.7,991.8 L1465.8,984.3 L1473.8,976.7 L1481.8,963.8 L1489.9,966.0 L1497.9,955.2 L1506.0,956.3 L1514.0,955.2 L1522.1,959.5 L1530.1,959.5 L1538.2,961.7 L1546.2,969.2 L1554.3,967.5 L1562.3,970.3 L1570.4,972.4 L1578.4,974.6 L1586.5,975.0 L1594.5,985.4 L1602.6,986.4 L1602.6,1004.4 L1594.5,1003.4 L1586.5,993.0 L1578.4,992.6 L1570.4,990.4 L1562.3,988.3 L1554.3,985.5 L1546.2,987.2 L1538.2,979.7 L1530.1,977.5 L1522.1,977.5 L1514.0,973.2 L1506.0,974.3 L1497.9,973.2 L1489.9,984.0 L1481.8,981.8 L1473.8,994.7 L1465.8,1002.3 L1457.7,1009.8 L1449.6,1021.7 L1441.6,1029.2 L1433.5,1037.9 L1425.5,1046.5 L1417.4,1054.0 L1409.4,1060.5 L1401.3,1064.8 L1393.3,1071.3 L1385.2,1079.9 L1377.2,1087.4 L1369.1,1093.9 L1361.1,1096.7 L1353.0,1097.1 L1345.0,1099.3 L1336.9,1096.7 L1328.9,1098.2 L1320.8,1095.0 L1312.8,1095.4 L1304.8,1095.6 L1296.7,1096.1 L1288.6,1101.5 L1280.6,1100.4Z" fill="#b9b9f7" stroke="none" stroke-width="1" fill-opacity="0.8"/>
<path d="M1280.6,1063.3 L1288.6,1062.7 L1296.7,1061.8 L1304.8,1062.2 L1312.8,1062.2 L1320.8,1062.0 L1328.9,1061.8 L1336.9,1062.0 L1345.0,1062.2 L1353.0,1060.1 L1361.1,1062.2 L1369.1,1060.1 L1377.2,1054.7 L1385.2,1049.7 L1393.3,1045.0 L1401.3,1039.0 L1409.4,1033.1 L1417.4,1027.3 L1425.5,1021.3 L1433.5,1015.9 L1441.6,1010.5 L1449.6,1003.6 L1457.7,996.5 L1465.8,992.2 L1473.8,987.9 L1481.8,982.9 L1489.9,978.2 L1497.9,974.9 L1506.0,976.0 L1514.0,979.2 L1522.1,982.5 L1530.1,985.1 L1538.2,987.9 L1546.2,988.9 L1554.3,990.0 L1562.3,990.5 L1570.4,991.1 L1578.4,992.8 L1586.5,994.3 L1594.5,995.4 L1602.6,996.5 L1602.6,1009.5 L1594.5,1008.4 L1586.5,1007.3 L1578.4,1005.8 L1570.4,1004.1 L1562.3,1003.5 L1554.3,1003.0 L1546.2,1001.9 L1538.2,1000.9 L1530.1,998.1 L1522.1,995.5 L1514.0,992.2 L1506.0,989.0 L1497.9,987.9 L1489.9,991.2 L1481.8,995.9 L1473.8,1000.9 L1465.8,1005.2 L1457.7,1009.5 L1449.6,1016.6 L1441.6,1023.5 L1433.5,1028.9 L1425.5,1034.3 L1417.4,1040.3 L1409.4,1046.1 L1401.3,1052.0 L1393.3,1058.0 L1385.2,1062.7 L1377.2,1067.7 L1369.1,1073.1 L1361.1,1075.2 L1353.0,1073.1 L1345.0,1075.2 L1336.9,1075.0 L1328.9,1074.8 L1320.8,1075.0 L1312.8,1075.2 L1304.8,1075.2 L1296.7,1074.8 L1288.6,1075.7 L1280.6,1076.3Z" fill="#b9b9f7" stroke="none" stroke-width="1" fill-opacity="0.8"/>
<path d="M1280.6,1070.9 L1288.6,1074.8 L1296.7,1067.7 L1304.8,1068.7 L1312.8,1070.9 L1320.8,1072.0 L1328.9,1072.0 L1336.9,1070.9 L1345.0,1073.1 L1353.0,1073.5 L1361.1,1070.9 L1369.1,1075.2 L1377.2,1079.5 L1385.2,1086.0 L1393.3,1092.5 L1401.3,1095.7 L1409.4,1098.9 L1417.4,1105.4 L1425.5,1112.9 L1433.5,1117.2 L1441.6,1119.4 L1449.6,1121.6 L1457.7,1128.0 L1465.8,1134.5 L1473.8,1138.8 L1481.8,1141.0 L1489.9,1141.0 L1497.9,1144.2 L1506.0,1142.0 L1514.0,1143.1 L1522.1,1140.3 L1530.1,1141.0 L1538.2,1138.8 L1546.2,1136.6 L1554.3,1135.6 L1562.3,1133.4 L1570.4,1131.3 L1578.4,1130.2 L1586.5,1130.2 L1594.5,1134.5 L1602.6,1132.3" fill="none" stroke="#fa0808" stroke-width="2.2" stroke-linejoin="round" />
<path d="M1280.6,1062.7 L1288.6,1062.3 L1296.7,1061.8 L1304.8,1061.4 L1312.8,1061.2 L1320.8,1061.0 L1328.9,1060.5 L1336.9,1060.8 L1345.0,1061.2 L1353.0,1060.1 L1361.1,1062.3 L1369.1,1064.9 L1377.2,1067.7 L1385.2,1070.9 L1393.3,1074.1 L1401.3,1077.4 L1409.4,1080.6 L1417.4,1083.8 L1425.5,1090.3 L1433.5,1093.5 L1441.6,1095.7 L1449.6,1098.9 L1457.7,1102.2 L1465.8,1107.5 L1473.8,1111.9 L1481.8,1114.0 L1489.9,1115.1 L1497.9,1115.1 L1506.0,1116.2 L1514.0,1117.2 L1522.1,1115.1 L1530.1,1114.0 L1538.2,1114.0 L1546.2,1114.4 L1554.3,1114.0 L1562.3,1112.9 L1570.4,1110.8 L1578.4,1109.7 L1586.5,1107.5 L1594.5,1105.8 L1602.6,1107.5" fill="none" stroke="#fa0808" stroke-width="2.2" stroke-linejoin="round" stroke-dasharray="7,4.5"/>
<path d="M1280.6,1091.4 L1288.6,1092.5 L1296.7,1087.1 L1304.8,1086.6 L1312.8,1086.4 L1320.8,1086.0 L1328.9,1089.2 L1336.9,1087.7 L1345.0,1090.3 L1353.0,1088.1 L1361.1,1087.7 L1369.1,1084.9 L1377.2,1078.4 L1385.2,1070.9 L1393.3,1062.3 L1401.3,1055.8 L1409.4,1051.5 L1417.4,1045.0 L1425.5,1037.5 L1433.5,1028.9 L1441.6,1020.2 L1449.6,1012.7 L1457.7,1000.8 L1465.8,993.3 L1473.8,985.7 L1481.8,972.8 L1489.9,975.0 L1497.9,964.2 L1506.0,965.3 L1514.0,964.2 L1522.1,968.5 L1530.1,968.5 L1538.2,970.7 L1546.2,978.2 L1554.3,976.5 L1562.3,979.3 L1570.4,981.4 L1578.4,983.6 L1586.5,984.0 L1594.5,994.4 L1602.6,995.4" fill="none" stroke="#0808ff" stroke-width="2.2" stroke-linejoin="round" />
<path d="M1280.6,1069.8 L1288.6,1069.2 L1296.7,1068.3 L1304.8,1068.7 L1312.8,1068.7 L1320.8,1068.5 L1328.9,1068.3 L1336.9,1068.5 L1345.0,1068.7 L1353.0,1066.6 L1361.1,1068.7 L1369.1,1066.6 L1377.2,1061.2 L1385.2,1056.2 L1393.3,1051.5 L1401.3,1045.5 L1409.4,1039.6 L1417.4,1033.8 L1425.5,1027.8 L1433.5,1022.4 L1441.6,1017.0 L1449.6,1010.1 L1457.7,1003.0 L1465.8,998.7 L1473.8,994.4 L1481.8,989.4 L1489.9,984.7 L1497.9,981.4 L1506.0,982.5 L1514.0,985.7 L1522.1,989.0 L1530.1,991.6 L1538.2,994.4 L1546.2,995.4 L1554.3,996.5 L1562.3,997.0 L1570.4,997.6 L1578.4,999.3 L1586.5,1000.8 L1594.5,1001.9 L1602.6,1003.0" fill="none" stroke="#0808ff" stroke-width="2.2" stroke-linejoin="round" stroke-dasharray="7,4.5"/>
<line x1="1361.1" y1="940.8" x2="1361.1" y2="1195.7" stroke="#606060" stroke-width="2.1" stroke-dasharray="8.5,4"/>
<rect x="1359.5" y="934.0" width="30.6" height="8.2" fill="#0808ff"/>
<rect x="1481.5" y="934.0" width="110.7" height="8.2" fill="#0808ff"/>
<rect x="1361.1" y="1168.6" width="246.8" height="9.0" fill="#fa0808"/>
<line x1="1280.9" y1="947.6" x2="1280.9" y2="1196.4" stroke="#222" stroke-width="1.4" />
<line x1="1280.2" y1="1195.7" x2="1603.5" y2="1195.7" stroke="#222" stroke-width="1.4" />
<line x1="1270.8" y1="947.6" x2="1280.9" y2="947.6" stroke="#222" stroke-width="1.4" />
<text x="1258.8" y="955.6" font-size="22.5" text-anchor="end" textLength="14.0" lengthAdjust="spacingAndGlyphs">1</text>
<line x1="1270.8" y1="1047.1" x2="1280.9" y2="1047.1" stroke="#222" stroke-width="1.4" />
<text x="1258.8" y="1055.1" font-size="22.5" text-anchor="end" textLength="14.0" lengthAdjust="spacingAndGlyphs">0</text>
<line x1="1270.8" y1="1146.1" x2="1280.9" y2="1146.1" stroke="#222" stroke-width="1.4" />
<text x="1258.8" y="1154.1" font-size="22.5" text-anchor="end" textLength="28.7" lengthAdjust="spacingAndGlyphs">−1</text>
<line x1="1280.6" y1="1195.7" x2="1280.6" y2="1203.9" stroke="#222" stroke-width="1.4" />
<text x="1278.1" y="1232.3" font-size="22.5" text-anchor="middle" textLength="42.7" lengthAdjust="spacingAndGlyphs">−10</text>
<line x1="1361.1" y1="1195.7" x2="1361.1" y2="1203.9" stroke="#222" stroke-width="1.4" />
<text x="1361.1" y="1232.3" font-size="22.5" text-anchor="middle" textLength="14.0" lengthAdjust="spacingAndGlyphs">0</text>
<line x1="1441.6" y1="1195.7" x2="1441.6" y2="1203.9" stroke="#222" stroke-width="1.4" />
<text x="1441.6" y="1232.3" font-size="22.5" text-anchor="middle" textLength="28.0" lengthAdjust="spacingAndGlyphs">10</text>
<line x1="1522.1" y1="1195.7" x2="1522.1" y2="1203.9" stroke="#222" stroke-width="1.4" />
<text x="1522.1" y="1232.3" font-size="22.5" text-anchor="middle" textLength="28.0" lengthAdjust="spacingAndGlyphs">20</text>
<line x1="1602.6" y1="1195.7" x2="1602.6" y2="1203.9" stroke="#222" stroke-width="1.4" />
<text x="1602.6" y="1232.3" font-size="22.5" text-anchor="middle" textLength="28.0" lengthAdjust="spacingAndGlyphs">30</text>
<line x1="1455.2" y1="1041.2" x2="1482.3" y2="1041.2" stroke="#000" stroke-width="2.2" />
<line x1="1455.2" y1="1072.9" x2="1482.3" y2="1072.9" stroke="#000" stroke-width="2.2" stroke-dasharray="8,5"/>
<text x="1493.6" y="1048.5" font-size="28" textLength="120.4" lengthAdjust="spacingAndGlyphs">Proestrus</text>
<text x="1495.9" y="1081.8" font-size="28">Diestrus</text>
<text x="1291.9" y="1274.4" font-size="28" textLength="303.5" lengthAdjust="spacingAndGlyphs">Trials from block switch</text>
<text x="1215.5" y="1222.7" font-size="28" transform="rotate(-90 1215.5 1222.7)" textLength="297.1" lengthAdjust="spacingAndGlyphs">Init. time (s, detrended)</text>
<text x="5.2" y="1388.1" font-size="34.73" font-weight="bold" textLength="12.1" lengthAdjust="spacingAndGlyphs" stroke="#000" stroke-width="1.2" stroke-linejoin="round">j</text>
<text x="153.7" y="1394.7" font-size="28" textLength="136.8" lengthAdjust="spacingAndGlyphs">Detrended</text>
<text x="95.9" y="1426.4" font-size="28" textLength="252.9" lengthAdjust="spacingAndGlyphs">init. time regression</text>
<line x1="101.6" y1="1485.7" x2="257.3" y2="1485.7" stroke="#808080" stroke-width="2.0" stroke-dasharray="9,6"/>
<path d="M131.4,1650.0 L173.5,1505.0 L215.4,1485.0 L257.3,1484.5 L299.2,1484.5 L341.0,1484.5 L362.4,1484.5 L362.4,1487.0 L341.0,1487.0 L299.2,1487.0 L257.3,1487.0 L215.4,1491.0 L173.5,1528.5 L131.4,1699.8Z" fill="#f9d4b6" stroke="none" stroke-width="1" fill-opacity="0.8"/>
<path d="M131.4,1601.0 L173.5,1512.0 L215.4,1493.5 L257.3,1484.0 L299.2,1484.5 L341.0,1484.5 L362.4,1484.5 L362.4,1487.0 L341.0,1487.0 L299.2,1487.0 L257.3,1487.5 L215.4,1501.5 L173.5,1523.0 L131.4,1641.0Z" fill="#cfc6f1" stroke="none" stroke-width="1" fill-opacity="0.8"/>
<path d="M131.4,1553.0 L173.5,1515.5 L215.4,1499.5 L257.3,1488.5 L299.2,1485.0 L341.0,1484.5 L362.4,1484.5 L362.4,1487.0 L341.0,1487.0 L299.2,1487.8 L257.3,1492.5 L215.4,1505.5 L173.5,1524.0 L131.4,1571.0Z" fill="#c8c8c8" stroke="none" stroke-width="1" fill-opacity="0.9"/>
<path d="M131.4,1674.8 L173.5,1515.6 L215.4,1488.1 L257.3,1485.7 L362.4,1485.7" fill="none" stroke="#e8720e" stroke-width="2.4" stroke-linejoin="round" />
<path d="M131.4,1621.0 L173.5,1517.4 L215.4,1497.6 L257.3,1485.7 L362.4,1485.7" fill="none" stroke="#7458d0" stroke-width="2.4" stroke-linejoin="round" />
<path d="M131.4,1562.0 L173.5,1519.9 L215.4,1502.5 L257.3,1490.6 L299.2,1486.4 L341.0,1485.7 L362.4,1485.7" fill="none" stroke="#000" stroke-width="2.6" stroke-linejoin="round" />
<line x1="110.8" y1="1467.8" x2="110.8" y2="1711.9" stroke="#222" stroke-width="1.4" />
<line x1="110.8" y1="1711.2" x2="362.4" y2="1711.2" stroke="#222" stroke-width="1.4" />
<line x1="101.6" y1="1485.7" x2="110.8" y2="1485.7" stroke="#222" stroke-width="1.4" />
<text x="89.5" y="1493.7" font-size="22.5" text-anchor="end" textLength="14.0" lengthAdjust="spacingAndGlyphs">0</text>
<line x1="101.6" y1="1555.1" x2="110.8" y2="1555.1" stroke="#222" stroke-width="1.4" />
<text x="89.5" y="1563.1" font-size="22.5" text-anchor="end" textLength="49.7" lengthAdjust="spacingAndGlyphs">−0.2</text>
<line x1="101.6" y1="1624.5" x2="110.8" y2="1624.5" stroke="#222" stroke-width="1.4" />
<text x="89.5" y="1632.5" font-size="22.5" text-anchor="end" textLength="49.7" lengthAdjust="spacingAndGlyphs">−0.4</text>
<line x1="101.6" y1="1693.9" x2="110.8" y2="1693.9" stroke="#222" stroke-width="1.4" />
<text x="89.5" y="1701.9" font-size="22.5" text-anchor="end" textLength="49.7" lengthAdjust="spacingAndGlyphs">−0.6</text>
<line x1="131.4" y1="1711.2" x2="131.4" y2="1719.9" stroke="#222" stroke-width="1.4" />
<line x1="173.5" y1="1711.2" x2="173.5" y2="1719.9" stroke="#222" stroke-width="1.4" />
<line x1="215.4" y1="1711.2" x2="215.4" y2="1719.9" stroke="#222" stroke-width="1.4" />
<line x1="257.3" y1="1711.2" x2="257.3" y2="1719.9" stroke="#222" stroke-width="1.4" />
<line x1="299.2" y1="1711.2" x2="299.2" y2="1719.9" stroke="#222" stroke-width="1.4" />
<line x1="341.0" y1="1711.2" x2="341.0" y2="1719.9" stroke="#222" stroke-width="1.4" />
<text x="132.6" y="1487.0" font-size="30" text-anchor="middle">*</text>
<text x="216.1" y="1487.0" font-size="30" text-anchor="middle">*</text>
<text x="257.8" y="1487.0" font-size="30" text-anchor="middle">*</text>
<text x="214.6" y="1599.2" font-size="28" fill="#e8720e" textLength="119.8" lengthAdjust="spacingAndGlyphs">Proestrus</text>
<text x="216.9" y="1626.4" font-size="28" fill="#7458d0">Diestrus</text>
<text x="216.9" y="1653.7" font-size="28">Male</text>
<text x="117.0" y="1756.5" font-size="28"><tspan font-style="italic">R</tspan><tspan font-style="italic" font-size="17.4" dy="8">t-1</tspan></text>
<text x="325.5" y="1756.5" font-size="28"><tspan font-style="italic">R</tspan><tspan font-style="italic" font-size="17.4" dy="8">t-6</tspan></text>
<text x="117.9" y="1797.4" font-size="28" textLength="217.7" lengthAdjust="spacingAndGlyphs">Previous rewards</text>
<text x="24.5" y="1590.5" font-size="28" text-anchor="middle" transform="rotate(-90 24.5 1590.5)" textLength="321.0" lengthAdjust="spacingAndGlyphs"><tspan>Regression coefficient (</tspan><tspan font-style="italic">β</tspan><tspan>)</tspan></text>
<text x="424.2" y="1395.4" font-size="37.22" font-weight="bold" textLength="24.4" lengthAdjust="spacingAndGlyphs" stroke="#000" stroke-width="1.2" stroke-linejoin="round">k</text>
<text x="571.5" y="1431.6" font-size="28" textLength="111.5" lengthAdjust="spacingAndGlyphs"><tspan font-style="italic">P</tspan><tspan> &lt;&lt; 0.01</tspan></text>
<path d="M554.35,1711.70 L554.35,1702.54 L570.35,1702.54 L570.35,1711.70 Z M586.15,1711.70 L586.15,1684.21 L602.15,1684.21 L602.15,1711.70 Z M609.95,1711.70 L609.95,1675.04 L617.95,1675.04 L617.95,1711.70 Z M617.65,1711.70 L617.65,1638.38 L626.25,1638.38 L626.25,1711.70 Z M625.95,1711.70 L625.95,1528.40 L633.95,1528.40 L633.95,1711.70 Z M633.65,1711.70 L633.65,1565.06 L642.05,1565.06 L642.05,1711.70 Z M641.75,1711.70 L641.75,1500.90 L650.05,1500.90 L650.05,1711.70 Z M649.75,1711.70 L649.75,1583.39 L658.05,1583.39 L658.05,1711.70 Z M657.75,1711.70 L657.75,1638.38 L665.75,1638.38 L665.75,1711.70 Z M665.45,1711.70 L665.45,1684.21 L681.85,1684.21 L681.85,1711.70 Z M689.55,1711.70 L689.55,1684.21 L697.85,1684.21 L697.85,1711.70 Z M697.55,1711.70 L697.55,1693.37 L705.65,1693.37 L705.65,1711.70 Z M721.05,1711.70 L721.05,1702.54 L737.15,1702.54 L737.15,1711.70 Z " fill="#cccccc" stroke="none" stroke-width="1" />
<line x1="510.9" y1="1473.6" x2="510.9" y2="1712.4" stroke="#222" stroke-width="1.4" />
<line x1="501.6" y1="1711.7" x2="749.6" y2="1711.7" stroke="#222" stroke-width="1.4" />
<line x1="501.6" y1="1711.7" x2="510.9" y2="1711.7" stroke="#222" stroke-width="1.4" />
<text x="488.5" y="1719.7" font-size="22.5" text-anchor="end" textLength="14.0" lengthAdjust="spacingAndGlyphs">0</text>
<line x1="501.6" y1="1620.0" x2="510.9" y2="1620.0" stroke="#222" stroke-width="1.4" />
<text x="488.5" y="1628.0" font-size="22.5" text-anchor="end" textLength="28.0" lengthAdjust="spacingAndGlyphs">10</text>
<line x1="501.6" y1="1528.4" x2="510.9" y2="1528.4" stroke="#222" stroke-width="1.4" />
<text x="488.5" y="1536.4" font-size="22.5" text-anchor="end" textLength="28.0" lengthAdjust="spacingAndGlyphs">20</text>
<line x1="550.5" y1="1711.7" x2="550.5" y2="1720.8" stroke="#222" stroke-width="1.4" />
<text x="549.0" y="1750.2" font-size="22.5" text-anchor="middle" textLength="28.7" lengthAdjust="spacingAndGlyphs">−1</text>
<line x1="629.8" y1="1711.7" x2="629.8" y2="1720.8" stroke="#222" stroke-width="1.4" />
<text x="629.8" y="1750.2" font-size="22.5" text-anchor="middle" textLength="14.0" lengthAdjust="spacingAndGlyphs">0</text>
<line x1="709.2" y1="1711.7" x2="709.2" y2="1720.8" stroke="#222" stroke-width="1.4" />
<text x="709.2" y="1750.2" font-size="22.5" text-anchor="middle" textLength="14.0" lengthAdjust="spacingAndGlyphs">1</text>
<line x1="629.8" y1="1473.6" x2="629.8" y2="1711.7" stroke="#606060" stroke-width="2.0" stroke-dasharray="8,4"/>
<path d="M635.7,1464.3 L649.9,1464.3 L642.8,1477.6 Z" fill="#444" stroke="none" stroke-width="1" />
<text x="507.3" y="1790.8" font-size="28" textLength="253.2" lengthAdjust="spacingAndGlyphs">Diestrus – proestrus</text>
<text x="615.5" y="1821.0" font-size="28"><tspan font-style="italic">β</tspan><tspan font-style="italic" font-size="17.4" dy="8">t-1</tspan></text>
<text x="449.0" y="1657.6" font-size="28" transform="rotate(-90 449.0 1657.6)" textLength="130.2" lengthAdjust="spacingAndGlyphs">No. of rats</text>
<text x="790.9" y="1394.1" font-size="35.42" font-weight="bold" textLength="12.8" lengthAdjust="spacingAndGlyphs" stroke="#000" stroke-width="1.2" stroke-linejoin="round">l</text>
<text x="861.1" y="1416.7" font-size="28" fill="#e8700a" textLength="121.0" lengthAdjust="spacingAndGlyphs">Proestrus</text>
<text x="1023.0" y="1416.7" font-size="28" fill="#df9660" textLength="77.8" lengthAdjust="spacingAndGlyphs">Estrus</text>
<text x="863.4" y="1447.7" font-size="28" fill="#a090e0">Metestrus</text>
<text x="1023.0" y="1447.7" font-size="28" fill="#7459c8" textLength="104.0" lengthAdjust="spacingAndGlyphs">Diestrus</text>
<circle cx="938.2" cy="1579.0" r="5.2" fill="#e8700a" />
<circle cx="935.8" cy="1618.0" r="5.2" fill="#7459c8" />
<circle cx="930.8" cy="1663.9" r="5.2" fill="#a090e0" />
<circle cx="969.9" cy="1651.5" r="5.2" fill="#a090e0" />
<circle cx="972.3" cy="1589.5" r="5.2" fill="#e8700a" />
<circle cx="971.1" cy="1642.8" r="5.2" fill="#e8700a" />
<circle cx="953.1" cy="1534.4" r="5.2" fill="#7459c8" />
<circle cx="918.4" cy="1621.1" r="5.2" fill="#a090e0" />
<circle cx="953.1" cy="1648.4" r="5.2" fill="#e8700a" />
<circle cx="908.3" cy="1563.9" r="5.2" fill="#7459c8" />
<circle cx="1028.5" cy="1503.3" r="5.2" fill="#e8700a" />
<circle cx="967.4" cy="1518.2" r="5.2" fill="#e8700a" />
<circle cx="971.1" cy="1545.5" r="5.2" fill="#e8700a" />
<circle cx="932.1" cy="1591.4" r="5.2" fill="#7459c8" />
<circle cx="995.3" cy="1614.9" r="5.2" fill="#e8700a" />
<circle cx="902.3" cy="1548.0" r="5.2" fill="#df9660" />
<circle cx="964.0" cy="1562.6" r="5.2" fill="#e8700a" />
<circle cx="953.7" cy="1541.8" r="5.2" fill="#a090e0" />
<circle cx="1020.1" cy="1661.1" r="5.2" fill="#7459c8" />
<circle cx="916.8" cy="1477.0" r="5.2" fill="#7459c8" />
<circle cx="934.2" cy="1515.8" r="5.2" fill="#7459c8" />
<circle cx="995.3" cy="1465.0" r="5.2" fill="#e8700a" />
<circle cx="1017.2" cy="1532.8" r="5.2" fill="#df9660" />
<circle cx="943.8" cy="1553.6" r="5.2" fill="#7459c8" />
<circle cx="950.0" cy="1634.7" r="5.2" fill="#7459c8" />
<circle cx="945.7" cy="1528.2" r="5.2" fill="#e8700a" />
<circle cx="990.3" cy="1551.1" r="5.2" fill="#7459c8" />
<circle cx="945.7" cy="1575.9" r="5.2" fill="#7459c8" />
<circle cx="947.9" cy="1590.1" r="5.2" fill="#e8700a" />
<circle cx="949.2" cy="1597.6" r="5.2" fill="#df9660" />
<circle cx="959.9" cy="1548.2" r="5.2" fill="#7459c8" />
<circle cx="896.5" cy="1583.3" r="5.2" fill="#a090e0" />
<circle cx="971.1" cy="1604.4" r="5.2" fill="#e8700a" />
<circle cx="973.6" cy="1627.9" r="5.2" fill="#e8700a" />
<circle cx="927.1" cy="1644.7" r="5.2" fill="#a090e0" />
<circle cx="985.3" cy="1652.1" r="5.2" fill="#e8700a" />
<circle cx="939.5" cy="1554.8" r="5.2" fill="#7459c8" />
<circle cx="974.2" cy="1615.5" r="5.2" fill="#e8700a" />
<circle cx="1020.0" cy="1563.2" r="5.2" fill="#7459c8" />
<circle cx="912.2" cy="1608.7" r="5.2" fill="#7459c8" />
<circle cx="973.6" cy="1577.7" r="5.2" fill="#7459c8" />
<circle cx="1038.8" cy="1535.0" r="5.2" fill="#e8700a" />
<circle cx="940.1" cy="1515.1" r="5.2" fill="#e8700a" />
<circle cx="1006.4" cy="1543.0" r="5.2" fill="#7459c8" />
<circle cx="976.7" cy="1598.2" r="5.2" fill="#df9660" />
<circle cx="914.7" cy="1616.2" r="5.2" fill="#7459c8" />
<circle cx="995.3" cy="1555.4" r="5.2" fill="#7459c8" />
<circle cx="936.4" cy="1657.1" r="5.2" fill="#df9660" />
<circle cx="946.9" cy="1643.4" r="5.2" fill="#7459c8" />
<circle cx="949.4" cy="1617.4" r="5.2" fill="#7459c8" />
<circle cx="922.8" cy="1529.6" r="5.2" fill="#df9660" />
<circle cx="952.5" cy="1551.1" r="5.2" fill="#a090e0" />
<circle cx="940.1" cy="1624.2" r="5.2" fill="#e8700a" />
<circle cx="954.4" cy="1629.2" r="5.2" fill="#7459c8" />
<circle cx="932.1" cy="1616.8" r="5.2" fill="#a090e0" />
<circle cx="1023.0" cy="1535.1" r="5.2" fill="#df9660" />
<circle cx="971.7" cy="1572.2" r="5.2" fill="#7459c8" />
<circle cx="944.4" cy="1644.7" r="5.2" fill="#7459c8" />
<circle cx="1058.9" cy="1547.9" r="5.2" fill="#e8700a" />
<circle cx="935.8" cy="1481.7" r="5.2" fill="#7459c8" />
<circle cx="933.5" cy="1535.8" r="5.2" fill="#7459c8" />
<circle cx="904.8" cy="1621.1" r="5.2" fill="#7459c8" />
<circle cx="986.6" cy="1613.7" r="5.2" fill="#e8700a" />
<circle cx="934.5" cy="1583.9" r="5.2" fill="#7459c8" />
<circle cx="961.2" cy="1549.2" r="5.2" fill="#e8700a" />
<circle cx="955.6" cy="1568.4" r="5.2" fill="#df9660" />
<circle cx="942.0" cy="1541.4" r="5.2" fill="#e8700a" />
<circle cx="1007.0" cy="1470.5" r="5.2" fill="#df9660" />
<circle cx="975.4" cy="1565.3" r="5.2" fill="#df9660" />
<circle cx="955.6" cy="1673.8" r="5.2" fill="#7459c8" />
<circle cx="932.3" cy="1507.5" r="5.2" fill="#7459c8" />
<circle cx="953.1" cy="1483.5" r="5.2" fill="#a090e0" />
<circle cx="930.8" cy="1524.7" r="5.2" fill="#7459c8" />
<circle cx="940.7" cy="1590.1" r="5.2" fill="#7459c8" />
<circle cx="1087.3" cy="1528.3" r="5.2" fill="#e8700a" />
<circle cx="1020.4" cy="1524.8" r="5.2" fill="#e8700a" />
<circle cx="978.5" cy="1504.6" r="5.2" fill="#e8700a" />
<circle cx="961.8" cy="1621.1" r="5.2" fill="#e8700a" />
<circle cx="1110.3" cy="1545.7" r="5.2" fill="#e8700a" />
<circle cx="1007.6" cy="1549.9" r="5.2" fill="#df9660" />
<circle cx="939.5" cy="1589.5" r="5.2" fill="#7459c8" />
<circle cx="972.3" cy="1508.3" r="5.2" fill="#e8700a" />
<circle cx="919.0" cy="1651.5" r="5.2" fill="#df9660" />
<circle cx="1030.1" cy="1483.6" r="5.2" fill="#e8700a" />
<circle cx="1013.9" cy="1562.5" r="5.2" fill="#a090e0" />
<circle cx="1062.8" cy="1504.7" r="5.2" fill="#e8700a" />
<circle cx="941.3" cy="1608.1" r="5.2" fill="#7459c8" />
<circle cx="925.9" cy="1639.7" r="5.2" fill="#7459c8" />
<circle cx="992.8" cy="1629.2" r="5.2" fill="#e8700a" />
<circle cx="934.2" cy="1652.7" r="5.2" fill="#7459c8" />
<circle cx="1028.2" cy="1595.5" r="5.2" fill="#e8700a" />
<circle cx="932.1" cy="1478.6" r="5.2" fill="#7459c8" />
<circle cx="1031.4" cy="1611.3" r="5.2" fill="#e8700a" />
<circle cx="917.2" cy="1546.1" r="5.2" fill="#7459c8" />
<circle cx="1001.5" cy="1670.7" r="5.2" fill="#e8700a" />
<circle cx="908.5" cy="1546.8" r="5.2" fill="#df9660" />
<circle cx="965.5" cy="1588.9" r="5.2" fill="#e8700a" />
<circle cx="900.1" cy="1530.6" r="5.2" fill="#df9660" />
<circle cx="1002.1" cy="1541.8" r="5.2" fill="#a090e0" />
<circle cx="943.2" cy="1580.8" r="5.2" fill="#7459c8" />
<circle cx="989.1" cy="1624.8" r="5.2" fill="#e8700a" />
<circle cx="978.5" cy="1676.3" r="5.2" fill="#e8700a" />
<circle cx="937.0" cy="1638.5" r="5.2" fill="#7459c8" />
<path d="M874.1,1607.2 L1122.1,1535.0" fill="none" stroke="#000" stroke-width="2.6" />
<line x1="874.1" y1="1462.9" x2="874.1" y2="1711.6" stroke="#222" stroke-width="1.4" />
<line x1="865.0" y1="1710.9" x2="1122.1" y2="1710.9" stroke="#222" stroke-width="1.4" />
<line x1="865.0" y1="1498.4" x2="874.1" y2="1498.4" stroke="#222" stroke-width="1.4" />
<text x="852.8" y="1506.4" font-size="22.5" text-anchor="end" textLength="14.0" lengthAdjust="spacingAndGlyphs">2</text>
<line x1="865.0" y1="1569.3" x2="874.1" y2="1569.3" stroke="#222" stroke-width="1.4" />
<text x="852.8" y="1577.3" font-size="22.5" text-anchor="end" textLength="14.0" lengthAdjust="spacingAndGlyphs">1</text>
<line x1="865.0" y1="1640.0" x2="874.1" y2="1640.0" stroke="#222" stroke-width="1.4" />
<text x="852.8" y="1648.0" font-size="22.5" text-anchor="end" textLength="14.0" lengthAdjust="spacingAndGlyphs">0</text>
<line x1="865.0" y1="1710.9" x2="874.1" y2="1710.9" stroke="#222" stroke-width="1.4" />
<text x="852.8" y="1718.9" font-size="22.5" text-anchor="end" textLength="28.7" lengthAdjust="spacingAndGlyphs">−1</text>
<line x1="874.1" y1="1710.9" x2="874.1" y2="1720.0" stroke="#222" stroke-width="1.4" />
<text x="874.1" y="1748.8" font-size="22.5" text-anchor="middle" textLength="14.0" lengthAdjust="spacingAndGlyphs">0</text>
<line x1="973.0" y1="1710.9" x2="973.0" y2="1720.0" stroke="#222" stroke-width="1.4" />
<text x="973.0" y="1748.8" font-size="22.5" text-anchor="middle" textLength="42.0" lengthAdjust="spacingAndGlyphs">100</text>
<line x1="1071.8" y1="1710.9" x2="1071.8" y2="1720.0" stroke="#222" stroke-width="1.4" />
<text x="1071.8" y="1748.8" font-size="22.5" text-anchor="middle" textLength="42.0" lengthAdjust="spacingAndGlyphs">200</text>
<text x="1053.0" y="1654.0" font-size="28" textLength="92.5" lengthAdjust="spacingAndGlyphs"><tspan font-style="italic">r</tspan><tspan> = 0.22</tspan></text>
<text x="1053.0" y="1680.7" font-size="28" textLength="103.0" lengthAdjust="spacingAndGlyphs"><tspan font-style="italic">P</tspan><tspan> &lt; 0.05</tspan></text>
<text x="914.7" y="1791.6" font-size="28" textLength="163.7" lengthAdjust="spacingAndGlyphs">17β-Estradiol</text>
<text x="997.0" y="1822.3" font-size="28" text-anchor="middle"><tspan>(pg ml</tspan><tspan font-size="17.4" dy="-10">−1</tspan><tspan dy="10">)</tspan></text>
<text x="813.0" y="1654.8" font-size="28" transform="rotate(-90 813.0 1654.8)" textLength="135.9" lengthAdjust="spacingAndGlyphs">Δ init. time</text>
<text x="1210.1" y="1396.0" font-size="35.37" font-weight="bold" textLength="38.3" lengthAdjust="spacingAndGlyphs" stroke="#000" stroke-width="1.2" stroke-linejoin="round">m</text>
<text x="1344.5" y="1457.1" font-size="28" textLength="91.5" lengthAdjust="spacingAndGlyphs"><tspan font-style="italic">r</tspan><tspan> = 0.72</tspan></text>
<text x="1344.5" y="1484.2" font-size="28" textLength="103.0" lengthAdjust="spacingAndGlyphs"><tspan font-style="italic">P</tspan><tspan> &lt; 0.05</tspan></text>
<circle cx="1494.5" cy="1513.7" r="4.9" fill="#9a9a9a" />
<circle cx="1483.7" cy="1583.7" r="4.9" fill="#9a9a9a" />
<circle cx="1487.0" cy="1591.3" r="4.9" fill="#9a9a9a" />
<circle cx="1453.9" cy="1616.2" r="4.9" fill="#9a9a9a" />
<circle cx="1428.4" cy="1614.9" r="4.9" fill="#9a9a9a" />
<circle cx="1440.3" cy="1636.0" r="4.9" fill="#9a9a9a" />
<circle cx="1434.3" cy="1639.3" r="4.9" fill="#9a9a9a" />
<circle cx="1412.7" cy="1646.6" r="4.9" fill="#9a9a9a" />
<circle cx="1381.2" cy="1629.8" r="4.9" fill="#9a9a9a" />
<circle cx="1373.1" cy="1653.7" r="4.9" fill="#9a9a9a" />
<circle cx="1421.3" cy="1702.5" r="4.9" fill="#9a9a9a" />
<path d="M1358.2,1688.1 L1519.8,1550.6" fill="none" stroke="#000" stroke-width="2.6" />
<line x1="1325.9" y1="1501.0" x2="1325.9" y2="1712.4" stroke="#222" stroke-width="1.4" />
<line x1="1325.9" y1="1711.7" x2="1520.3" y2="1711.7" stroke="#222" stroke-width="1.4" />
<line x1="1316.9" y1="1521.3" x2="1325.9" y2="1521.3" stroke="#222" stroke-width="1.4" />
<text x="1301.0" y="1529.3" font-size="22.5" text-anchor="end" textLength="14.0" lengthAdjust="spacingAndGlyphs">3</text>
<line x1="1316.9" y1="1561.7" x2="1325.9" y2="1561.7" stroke="#222" stroke-width="1.4" />
<text x="1301.0" y="1569.7" font-size="22.5" text-anchor="end" textLength="14.0" lengthAdjust="spacingAndGlyphs">2</text>
<line x1="1316.9" y1="1602.1" x2="1325.9" y2="1602.1" stroke="#222" stroke-width="1.4" />
<text x="1301.0" y="1610.1" font-size="22.5" text-anchor="end" textLength="14.0" lengthAdjust="spacingAndGlyphs">1</text>
<line x1="1316.9" y1="1642.5" x2="1325.9" y2="1642.5" stroke="#222" stroke-width="1.4" />
<text x="1301.0" y="1650.5" font-size="22.5" text-anchor="end" textLength="14.0" lengthAdjust="spacingAndGlyphs">0</text>
<line x1="1316.9" y1="1683.0" x2="1325.9" y2="1683.0" stroke="#222" stroke-width="1.4" />
<text x="1301.0" y="1691.0" font-size="22.5" text-anchor="end" textLength="28.7" lengthAdjust="spacingAndGlyphs">−1</text>
<line x1="1373.6" y1="1711.7" x2="1373.6" y2="1720.6" stroke="#222" stroke-width="1.4" />
<text x="1373.6" y="1749.1" font-size="22.5" text-anchor="middle" textLength="28.0" lengthAdjust="spacingAndGlyphs">15</text>
<line x1="1439.0" y1="1711.7" x2="1439.0" y2="1720.6" stroke="#222" stroke-width="1.4" />
<text x="1439.0" y="1749.1" font-size="22.5" text-anchor="middle" textLength="28.0" lengthAdjust="spacingAndGlyphs">35</text>
<line x1="1504.3" y1="1711.7" x2="1504.3" y2="1720.6" stroke="#222" stroke-width="1.4" />
<text x="1504.3" y="1749.1" font-size="22.5" text-anchor="middle" textLength="28.0" lengthAdjust="spacingAndGlyphs">55</text>
<text x="1295.7" y="1788.4" font-size="28" textLength="251.3" lengthAdjust="spacingAndGlyphs">Proestrus – diestrus</text>
<text x="1339.9" y="1818.3" font-size="28" textLength="164.7" lengthAdjust="spacingAndGlyphs">17β-estradiol</text>
<text x="1422.0" y="1848.0" font-size="28" text-anchor="middle"><tspan>(pg ml</tspan><tspan font-size="17.4" dy="-10">−1</tspan><tspan dy="10">)</tspan></text>
<text x="1235.0" y="1732.3" font-size="28" transform="rotate(-90 1235.0 1732.3)" textLength="249.9" lengthAdjust="spacingAndGlyphs">Proestrus – diestrus</text>
<text x="1266.5" y="1675.3" font-size="28" transform="rotate(-90 1266.5 1675.3)" textLength="136.4" lengthAdjust="spacingAndGlyphs">Δ init. time</text>
</svg>
</body></html>
